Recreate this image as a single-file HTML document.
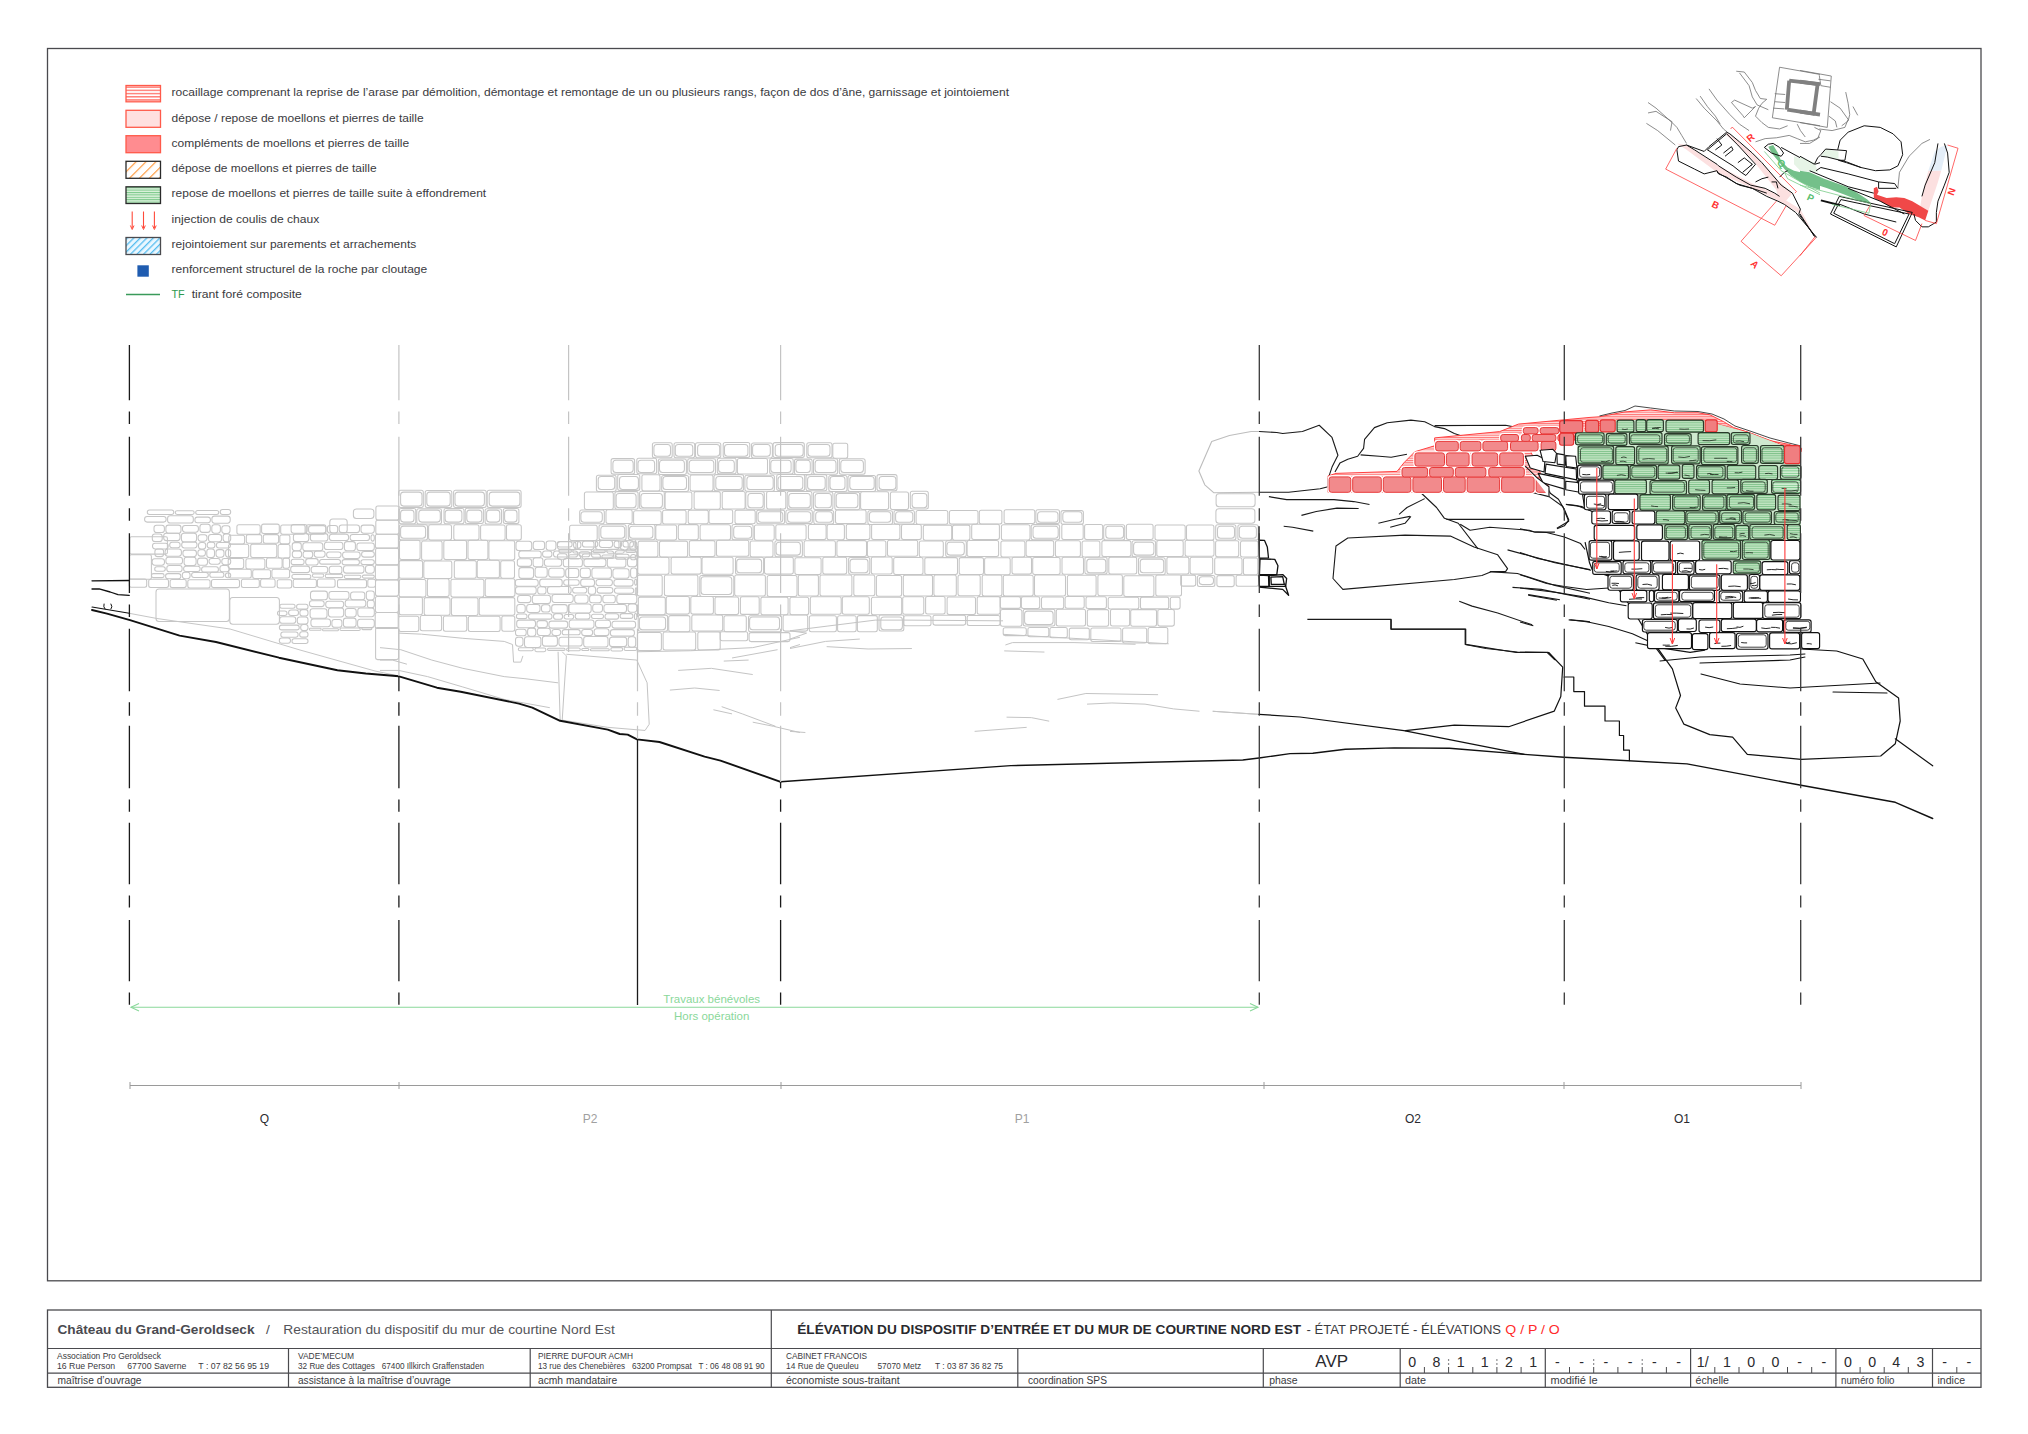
<!DOCTYPE html>
<html><head><meta charset="utf-8">
<style>
html,body{margin:0;padding:0;background:#fff;width:2028px;height:1434px;overflow:hidden}
svg{display:block;font-family:"Liberation Sans",sans-serif}
text{white-space:pre}
</style></head><body>
<svg width="2028" height="1434" viewBox="0 0 2028 1434">
<defs>
<pattern id="hs" width="6" height="3.2" patternUnits="userSpaceOnUse"><rect width="6" height="3.2" fill="#fff"/><rect width="6" height="1.5" fill="#ff8078"/></pattern>
<pattern id="gh" width="6" height="2.4" patternUnits="userSpaceOnUse"><rect width="6" height="2.4" fill="#dcf2dc"/><rect width="6" height="1" fill="#78c888"/></pattern>
<pattern id="oh" width="7" height="7" patternUnits="userSpaceOnUse" patternTransform="rotate(45)"><rect width="7" height="7" fill="#fff"/><rect width="1.2" height="7" fill="#ff9a3c"/></pattern>
<pattern id="bh" width="4.6" height="4.6" patternUnits="userSpaceOnUse" patternTransform="rotate(45)"><rect width="4.6" height="4.6" fill="#eaf7ff"/><rect width="1.3" height="4.6" fill="#58bdf0"/></pattern>
<pattern id="rh" width="6" height="2.3" patternUnits="userSpaceOnUse"><rect width="6" height="2.3" fill="#ffe4e4"/><rect width="6" height="1" fill="#ff7070"/></pattern>
<pattern id="gs" width="6" height="2.2" patternUnits="userSpaceOnUse"><rect width="6" height="2.2" fill="#c4e6c4"/><rect width="6" height="0.9" fill="#7cc088"/></pattern>
</defs>
<g fill="none" stroke="#c6c6c6" stroke-width="1.05">
<rect x="652.4" y="442.8" width="19.8" height="15.0" rx="2.0"/><rect x="653.9" y="444.4" width="16.6" height="11.8" rx="3.0"/><rect x="674.0" y="442.8" width="20.7" height="15.0" rx="2.0"/><rect x="675.3" y="444.4" width="17.5" height="11.8" rx="3.0"/><rect x="695.5" y="442.7" width="25.3" height="15.0" rx="2.0"/><rect x="697.6" y="444.4" width="22.1" height="11.8" rx="3.0"/><rect x="723.2" y="442.5" width="26.6" height="15.0" rx="2.0"/><rect x="724.5" y="444.4" width="23.4" height="11.8" rx="3.0"/><rect x="751.5" y="443.0" width="20.9" height="15.0" rx="2.0"/><rect x="752.6" y="444.4" width="17.7" height="11.8" rx="3.0"/><rect x="773.1" y="442.6" width="31.2" height="15.0" rx="2.0"/><rect x="775.2" y="444.4" width="28.0" height="11.8" rx="3.0"/><rect x="806.8" y="442.7" width="25.2" height="15.0" rx="2.0"/><rect x="808.0" y="444.4" width="22.0" height="11.8" rx="3.0"/><rect x="832.8" y="443.2" width="14.9" height="15.0" rx="2.0"/><rect x="611.1" y="458.6" width="23.5" height="15.5" rx="2.0"/><rect x="612.9" y="460.2" width="20.3" height="12.3" rx="3.0"/><rect x="636.8" y="458.3" width="19.8" height="15.5" rx="2.0"/><rect x="638.0" y="460.2" width="16.6" height="12.3" rx="3.0"/><rect x="658.3" y="459.0" width="28.1" height="15.5" rx="2.0"/><rect x="659.5" y="460.2" width="24.9" height="12.3" rx="3.0"/><rect x="687.7" y="458.8" width="27.8" height="15.5" rx="2.0"/><rect x="689.2" y="460.2" width="24.6" height="12.3" rx="3.0"/><rect x="717.3" y="458.3" width="18.9" height="15.5" rx="2.0"/><rect x="718.6" y="460.2" width="15.7" height="12.3" rx="3.0"/><rect x="737.4" y="458.5" width="30.1" height="15.5" rx="2.0"/><rect x="769.7" y="458.5" width="23.5" height="15.5" rx="2.0"/><rect x="770.8" y="460.2" width="20.3" height="12.3" rx="3.0"/><rect x="794.5" y="459.1" width="17.6" height="15.5" rx="2.0"/><rect x="795.9" y="460.2" width="14.4" height="12.3" rx="3.0"/><rect x="813.5" y="458.8" width="24.1" height="15.5" rx="2.0"/><rect x="815.1" y="460.2" width="20.9" height="12.3" rx="3.0"/><rect x="839.3" y="458.7" width="25.8" height="15.5" rx="2.0"/><rect x="840.8" y="460.2" width="22.6" height="12.3" rx="3.0"/><rect x="596.4" y="475.3" width="19.7" height="16.1" rx="2.0"/><rect x="598.2" y="476.5" width="16.5" height="12.9" rx="3.0"/><rect x="617.7" y="474.5" width="22.1" height="16.1" rx="2.0"/><rect x="619.5" y="476.5" width="18.9" height="12.9" rx="3.0"/><rect x="641.9" y="474.8" width="18.1" height="16.1" rx="2.0"/><rect x="661.7" y="475.4" width="26.8" height="16.1" rx="2.0"/><rect x="662.9" y="476.5" width="23.6" height="12.9" rx="3.0"/><rect x="690.1" y="475.0" width="22.9" height="16.1" rx="2.0"/><rect x="714.0" y="474.6" width="29.6" height="16.1" rx="2.0"/><rect x="715.8" y="476.5" width="26.4" height="12.9" rx="3.0"/><rect x="744.9" y="475.2" width="29.5" height="16.1" rx="2.0"/><rect x="746.9" y="476.5" width="26.3" height="12.9" rx="3.0"/><rect x="776.7" y="474.5" width="28.0" height="16.1" rx="2.0"/><rect x="778.0" y="476.5" width="24.8" height="12.9" rx="3.0"/><rect x="806.0" y="474.6" width="20.8" height="16.1" rx="2.0"/><rect x="807.6" y="476.5" width="17.6" height="12.9" rx="3.0"/><rect x="828.8" y="475.4" width="18.2" height="16.1" rx="2.0"/><rect x="830.0" y="476.5" width="15.0" height="12.9" rx="3.0"/><rect x="848.0" y="475.4" width="27.6" height="16.1" rx="2.0"/><rect x="849.8" y="476.5" width="24.4" height="12.9" rx="3.0"/><rect x="877.0" y="474.6" width="20.0" height="16.1" rx="2.0"/><rect x="879.1" y="476.5" width="16.8" height="12.9" rx="3.0"/><rect x="584.4" y="491.9" width="28.9" height="17.6" rx="2.0"/><rect x="614.9" y="491.6" width="23.2" height="17.6" rx="2.0"/><rect x="616.1" y="493.4" width="20.0" height="14.4" rx="3.0"/><rect x="639.6" y="491.3" width="24.7" height="17.6" rx="2.0"/><rect x="640.9" y="493.4" width="21.5" height="14.4" rx="3.0"/><rect x="665.1" y="491.9" width="26.8" height="17.6" rx="2.0"/><rect x="694.1" y="491.6" width="26.2" height="17.6" rx="2.0"/><rect x="722.2" y="491.4" width="22.9" height="17.6" rx="2.0"/><rect x="745.8" y="491.7" width="18.5" height="17.6" rx="2.0"/><rect x="747.9" y="493.4" width="15.3" height="14.4" rx="3.0"/><rect x="766.6" y="491.4" width="19.2" height="17.6" rx="2.0"/><rect x="787.2" y="491.5" width="24.7" height="17.6" rx="2.0"/><rect x="788.8" y="493.4" width="21.5" height="14.4" rx="3.0"/><rect x="813.4" y="492.0" width="19.5" height="17.6" rx="2.0"/><rect x="815.1" y="493.4" width="16.3" height="14.4" rx="3.0"/><rect x="834.8" y="492.2" width="24.9" height="17.6" rx="2.0"/><rect x="836.2" y="493.4" width="21.7" height="14.4" rx="3.0"/><rect x="860.6" y="491.8" width="28.0" height="17.6" rx="2.0"/><rect x="890.4" y="492.0" width="18.1" height="17.6" rx="2.0"/><rect x="910.3" y="491.3" width="18.0" height="17.6" rx="2.0"/><rect x="912.1" y="493.4" width="14.8" height="14.4" rx="3.0"/><rect x="579.7" y="510.0" width="24.6" height="13.7" rx="2.0"/><rect x="580.9" y="511.8" width="21.4" height="10.5" rx="3.0"/><rect x="606.0" y="509.8" width="26.2" height="13.7" rx="2.0"/><rect x="633.6" y="510.7" width="27.6" height="13.7" rx="2.0"/><rect x="662.6" y="510.3" width="23.5" height="13.7" rx="2.0"/><rect x="688.2" y="510.1" width="20.1" height="13.7" rx="2.0"/><rect x="709.0" y="509.8" width="23.7" height="13.7" rx="2.0"/><rect x="735.0" y="510.1" width="20.2" height="13.7" rx="2.0"/><rect x="756.7" y="510.1" width="27.9" height="13.7" rx="2.0"/><rect x="758.1" y="511.8" width="24.7" height="10.5" rx="3.0"/><rect x="785.9" y="509.9" width="26.4" height="13.7" rx="2.0"/><rect x="787.6" y="511.8" width="23.2" height="10.5" rx="3.0"/><rect x="813.8" y="510.4" width="19.9" height="13.7" rx="2.0"/><rect x="815.7" y="511.8" width="16.7" height="10.5" rx="3.0"/><rect x="835.5" y="509.9" width="30.6" height="13.7" rx="2.0"/><rect x="867.9" y="510.7" width="24.6" height="13.7" rx="2.0"/><rect x="869.4" y="511.8" width="21.4" height="10.5" rx="3.0"/><rect x="894.0" y="510.4" width="20.4" height="13.7" rx="2.0"/><rect x="895.6" y="511.8" width="17.2" height="10.5" rx="3.0"/><rect x="916.1" y="510.5" width="31.7" height="13.7" rx="2.0"/><rect x="949.4" y="510.4" width="28.6" height="13.7" rx="2.0"/><rect x="979.3" y="510.3" width="22.6" height="13.7" rx="2.0"/><rect x="1004.1" y="509.7" width="30.7" height="13.7" rx="2.0"/><rect x="1035.9" y="509.8" width="23.6" height="13.7" rx="2.0"/><rect x="1037.6" y="511.8" width="20.4" height="10.5" rx="3.0"/><rect x="1061.0" y="510.6" width="22.4" height="13.7" rx="2.0"/><rect x="1062.8" y="511.8" width="19.2" height="10.5" rx="3.0"/><rect x="569.6" y="525.2" width="27.6" height="15.2" rx="2.0"/><rect x="599.0" y="524.8" width="27.1" height="15.2" rx="2.0"/><rect x="600.8" y="526.3" width="23.9" height="12.0" rx="3.0"/><rect x="628.3" y="524.5" width="26.7" height="15.2" rx="2.0"/><rect x="629.4" y="526.3" width="23.5" height="12.0" rx="3.0"/><rect x="655.8" y="524.9" width="20.8" height="15.2" rx="2.0"/><rect x="678.3" y="524.6" width="20.0" height="15.2" rx="2.0"/><rect x="700.1" y="524.8" width="30.4" height="15.2" rx="2.0"/><rect x="732.0" y="524.5" width="21.1" height="15.2" rx="2.0"/><rect x="733.7" y="526.3" width="17.9" height="12.0" rx="3.0"/><rect x="754.4" y="525.0" width="19.8" height="15.2" rx="2.0"/><rect x="775.8" y="524.7" width="30.3" height="15.2" rx="2.0"/><rect x="808.4" y="524.4" width="17.7" height="15.2" rx="2.0"/><rect x="827.1" y="524.5" width="17.3" height="15.2" rx="2.0"/><rect x="846.3" y="524.3" width="23.6" height="15.2" rx="2.0"/><rect x="871.6" y="524.2" width="28.3" height="15.2" rx="2.0"/><rect x="901.5" y="524.4" width="19.8" height="15.2" rx="2.0"/><rect x="923.3" y="525.1" width="28.4" height="15.2" rx="2.0"/><rect x="952.5" y="525.1" width="17.4" height="15.2" rx="2.0"/><rect x="971.7" y="524.3" width="27.7" height="15.2" rx="2.0"/><rect x="1001.4" y="524.7" width="28.6" height="15.2" rx="2.0"/><rect x="1031.2" y="524.6" width="28.4" height="15.2" rx="2.0"/><rect x="1033.0" y="526.3" width="25.2" height="12.0" rx="3.0"/><rect x="1061.8" y="524.3" width="21.4" height="15.2" rx="2.0"/><rect x="1084.6" y="524.4" width="18.1" height="15.2" rx="2.0"/><rect x="1103.7" y="524.7" width="21.0" height="15.2" rx="2.0"/><rect x="1105.8" y="526.3" width="17.8" height="12.0" rx="3.0"/><rect x="1126.4" y="524.3" width="26.7" height="15.2" rx="2.0"/><rect x="1155.0" y="524.9" width="30.2" height="15.2" rx="2.0"/><rect x="1186.5" y="525.0" width="27.4" height="15.2" rx="2.0"/><rect x="1215.7" y="524.7" width="20.2" height="15.2" rx="2.0"/><rect x="1217.5" y="526.3" width="17.0" height="12.0" rx="3.0"/><rect x="1237.9" y="524.7" width="20.3" height="15.2" rx="2.0"/><rect x="1239.3" y="526.3" width="17.1" height="12.0" rx="3.0"/><rect x="638.1" y="541.1" width="19.8" height="16.0" rx="2.0"/><rect x="659.5" y="541.1" width="28.1" height="16.0" rx="2.0"/><rect x="689.3" y="540.6" width="25.7" height="16.0" rx="2.0"/><rect x="716.5" y="540.2" width="32.3" height="16.0" rx="2.0"/><rect x="750.2" y="541.0" width="22.8" height="16.0" rx="2.0"/><rect x="774.9" y="540.7" width="27.5" height="16.0" rx="2.0"/><rect x="776.1" y="542.3" width="24.3" height="12.8" rx="3.0"/><rect x="804.1" y="540.8" width="31.3" height="16.0" rx="2.0"/><rect x="836.9" y="540.6" width="29.6" height="16.0" rx="2.0"/><rect x="867.4" y="540.7" width="18.5" height="16.0" rx="2.0"/><rect x="887.5" y="540.2" width="30.2" height="16.0" rx="2.0"/><rect x="919.3" y="540.9" width="24.0" height="16.0" rx="2.0"/><rect x="945.7" y="540.7" width="20.6" height="16.0" rx="2.0"/><rect x="946.9" y="542.3" width="17.4" height="12.8" rx="3.0"/><rect x="967.1" y="540.4" width="31.5" height="16.0" rx="2.0"/><rect x="1000.9" y="541.0" width="24.0" height="16.0" rx="2.0"/><rect x="1026.1" y="540.6" width="27.6" height="16.0" rx="2.0"/><rect x="1055.4" y="540.7" width="25.0" height="16.0" rx="2.0"/><rect x="1082.1" y="541.0" width="17.8" height="16.0" rx="2.0"/><rect x="1101.9" y="540.6" width="29.0" height="16.0" rx="2.0"/><rect x="1132.1" y="540.8" width="23.5" height="16.0" rx="2.0"/><rect x="1133.6" y="542.3" width="20.3" height="12.8" rx="3.0"/><rect x="1156.8" y="540.4" width="26.4" height="16.0" rx="2.0"/><rect x="1185.1" y="540.3" width="28.9" height="16.0" rx="2.0"/><rect x="1215.6" y="540.7" width="23.1" height="16.0" rx="2.0"/><rect x="1240.5" y="540.9" width="17.6" height="16.0" rx="2.0"/><rect x="637.7" y="557.3" width="31.3" height="16.9" rx="2.0"/><rect x="671.1" y="557.2" width="30.1" height="16.9" rx="2.0"/><rect x="702.0" y="557.3" width="31.1" height="16.9" rx="2.0"/><rect x="735.5" y="557.3" width="28.1" height="16.9" rx="2.0"/><rect x="736.7" y="559.1" width="24.9" height="13.7" rx="3.0"/><rect x="764.5" y="557.2" width="28.8" height="16.9" rx="2.0"/><rect x="794.9" y="557.7" width="26.2" height="16.9" rx="2.0"/><rect x="822.8" y="557.2" width="23.9" height="16.9" rx="2.0"/><rect x="848.6" y="557.4" width="21.2" height="16.9" rx="2.0"/><rect x="850.0" y="559.1" width="18.0" height="13.7" rx="3.0"/><rect x="871.3" y="557.0" width="20.9" height="16.9" rx="2.0"/><rect x="893.7" y="557.5" width="29.3" height="16.9" rx="2.0"/><rect x="924.8" y="557.6" width="32.7" height="16.9" rx="2.0"/><rect x="959.2" y="557.6" width="24.3" height="16.9" rx="2.0"/><rect x="984.6" y="557.8" width="25.6" height="16.9" rx="2.0"/><rect x="1012.0" y="557.2" width="19.5" height="16.9" rx="2.0"/><rect x="1032.7" y="557.5" width="27.4" height="16.9" rx="2.0"/><rect x="1062.0" y="557.3" width="21.5" height="16.9" rx="2.0"/><rect x="1084.9" y="557.2" width="22.2" height="16.9" rx="2.0"/><rect x="1086.8" y="559.1" width="19.0" height="13.7" rx="3.0"/><rect x="1108.8" y="557.1" width="27.9" height="16.9" rx="2.0"/><rect x="1138.5" y="557.8" width="26.7" height="16.9" rx="2.0"/><rect x="1140.2" y="559.1" width="23.5" height="13.7" rx="3.0"/><rect x="1166.9" y="557.1" width="22.0" height="16.9" rx="2.0"/><rect x="1190.1" y="557.2" width="22.6" height="16.9" rx="2.0"/><rect x="1214.7" y="557.7" width="27.3" height="16.9" rx="2.0"/><rect x="1243.4" y="557.9" width="14.4" height="16.9" rx="2.0"/><rect x="637.3" y="575.2" width="24.9" height="20.9" rx="2.0"/><rect x="664.4" y="574.9" width="33.5" height="20.9" rx="2.0"/><rect x="699.8" y="575.5" width="34.0" height="20.9" rx="2.0"/><rect x="701.0" y="576.8" width="30.8" height="17.7" rx="3.0"/><rect x="734.7" y="575.0" width="30.7" height="20.9" rx="2.0"/><rect x="767.2" y="575.5" width="29.8" height="20.9" rx="2.0"/><rect x="798.3" y="575.0" width="20.1" height="20.9" rx="2.0"/><rect x="820.0" y="575.0" width="31.9" height="20.9" rx="2.0"/><rect x="853.8" y="574.9" width="21.0" height="20.9" rx="2.0"/><rect x="876.4" y="575.4" width="25.2" height="20.9" rx="2.0"/><rect x="903.3" y="575.1" width="29.2" height="20.9" rx="2.0"/><rect x="933.9" y="575.0" width="22.4" height="20.9" rx="2.0"/><rect x="958.0" y="574.9" width="22.2" height="20.9" rx="2.0"/><rect x="982.2" y="575.0" width="19.7" height="20.9" rx="2.0"/><rect x="1003.3" y="575.2" width="29.9" height="20.9" rx="2.0"/><rect x="1034.5" y="575.0" width="31.0" height="20.9" rx="2.0"/><rect x="1067.4" y="575.2" width="28.7" height="20.9" rx="2.0"/><rect x="1097.9" y="574.8" width="24.5" height="20.9" rx="2.0"/><rect x="1123.8" y="575.7" width="30.1" height="20.9" rx="2.0"/><rect x="1155.8" y="575.0" width="25.7" height="20.9" rx="2.0"/><rect x="1180.7" y="575.1" width="15.0" height="11.0" rx="2.0"/><rect x="1197.4" y="575.5" width="17.5" height="11.0" rx="2.0"/><rect x="1199.2" y="576.8" width="14.3" height="7.8" rx="3.0"/><rect x="1216.9" y="575.6" width="17.3" height="11.0" rx="2.0"/><rect x="1236.1" y="575.2" width="22.4" height="11.0" rx="2.0"/><rect x="638.3" y="597.1" width="27.0" height="17.6" rx="2.0"/><rect x="666.2" y="596.5" width="23.2" height="17.6" rx="2.0"/><rect x="690.8" y="596.5" width="22.6" height="17.6" rx="2.0"/><rect x="715.0" y="597.0" width="23.6" height="17.6" rx="2.0"/><rect x="740.4" y="596.8" width="18.8" height="17.6" rx="2.0"/><rect x="760.9" y="597.1" width="27.2" height="17.6" rx="2.0"/><rect x="789.9" y="597.2" width="18.8" height="17.6" rx="2.0"/><rect x="810.3" y="596.7" width="30.9" height="17.6" rx="2.0"/><rect x="842.3" y="596.7" width="27.0" height="17.6" rx="2.0"/><rect x="871.4" y="597.2" width="30.3" height="17.6" rx="2.0"/><rect x="902.7" y="596.7" width="21.1" height="17.6" rx="2.0"/><rect x="925.6" y="596.4" width="19.5" height="17.6" rx="2.0"/><rect x="947.1" y="597.0" width="28.4" height="17.6" rx="2.0"/><rect x="977.2" y="596.6" width="22.9" height="17.6" rx="2.0"/><rect x="638.2" y="615.1" width="29.4" height="16.1" rx="2.0"/><rect x="639.4" y="616.9" width="26.2" height="12.9" rx="3.0"/><rect x="668.7" y="615.6" width="21.2" height="16.1" rx="2.0"/><rect x="691.8" y="615.0" width="30.9" height="16.1" rx="2.0"/><rect x="724.0" y="615.7" width="22.3" height="16.1" rx="2.0"/><rect x="748.5" y="615.7" width="33.1" height="16.1" rx="2.0"/><rect x="749.6" y="616.9" width="29.9" height="12.9" rx="3.0"/><rect x="783.1" y="615.0" width="24.6" height="16.1" rx="2.0"/><rect x="809.3" y="615.7" width="27.1" height="16.1" rx="2.0"/><rect x="837.6" y="615.7" width="18.6" height="16.1" rx="2.0"/><rect x="857.4" y="615.6" width="19.9" height="16.1" rx="2.0"/><rect x="879.0" y="614.9" width="24.8" height="16.1" rx="2.0"/><rect x="880.8" y="616.9" width="21.6" height="12.9" rx="3.0"/><rect x="903.6" y="615.8" width="27.4" height="9.9" rx="2.0"/><rect x="933.0" y="615.2" width="32.6" height="9.9" rx="2.0"/><rect x="967.2" y="615.5" width="32.8" height="9.9" rx="2.0"/><rect x="1000.3" y="596.6" width="20.2" height="11.8" rx="2.0"/><rect x="1021.4" y="596.8" width="18.3" height="11.8" rx="2.0"/><rect x="1041.5" y="596.9" width="22.2" height="11.8" rx="2.0"/><rect x="1065.1" y="596.5" width="19.1" height="11.8" rx="2.0"/><rect x="1086.0" y="596.7" width="20.4" height="11.8" rx="2.0"/><rect x="1108.2" y="597.2" width="30.6" height="11.8" rx="2.0"/><rect x="1140.5" y="597.1" width="28.2" height="11.8" rx="2.0"/><rect x="1170.3" y="597.3" width="9.8" height="11.8" rx="2.0"/><rect x="1000.5" y="609.5" width="21.4" height="16.7" rx="2.0"/><rect x="1023.2" y="609.3" width="31.7" height="16.7" rx="2.0"/><rect x="1024.6" y="611.1" width="28.5" height="13.5" rx="3.0"/><rect x="1056.3" y="609.2" width="29.2" height="16.7" rx="2.0"/><rect x="1087.3" y="609.6" width="21.3" height="16.7" rx="2.0"/><rect x="1110.5" y="609.2" width="19.1" height="16.7" rx="2.0"/><rect x="1130.7" y="609.6" width="25.8" height="16.7" rx="2.0"/><rect x="1157.8" y="609.4" width="16.5" height="16.7" rx="2.0"/><rect x="1003.2" y="627.8" width="23.1" height="7.8" rx="2.0"/><rect x="1027.9" y="627.5" width="20.9" height="9.2" rx="2.0"/><rect x="1049.9" y="627.5" width="17.4" height="10.3" rx="2.0"/><rect x="1069.3" y="628.1" width="20.0" height="11.6" rx="2.0"/><rect x="1090.8" y="628.0" width="30.2" height="13.5" rx="2.0"/><rect x="1122.6" y="628.0" width="24.1" height="15.0" rx="2.0"/><rect x="1148.1" y="627.5" width="19.7" height="16.2" rx="2.0"/><rect x="637.4" y="632.4" width="24.0" height="18.0" rx="2.0"/><rect x="663.1" y="632.0" width="32.6" height="18.0" rx="2.0"/><rect x="697.8" y="631.9" width="22.4" height="18.0" rx="2.0"/><rect x="720.2" y="631.8" width="27.5" height="9.0" rx="2.0"/><rect x="749.1" y="632.6" width="40.9" height="9.0" rx="2.0"/><rect x="1216.1" y="493.7" width="39.0" height="13.0" rx="3"/><rect x="1215.9" y="508.8" width="39.0" height="14.5" rx="3"/><rect x="398.7" y="490.2" width="24.6" height="17.2" rx="2.0"/><rect x="400.6" y="492.1" width="21.4" height="14.0" rx="3.0"/><rect x="425.2" y="490.4" width="26.6" height="17.2" rx="2.0"/><rect x="426.8" y="492.1" width="23.4" height="14.0" rx="3.0"/><rect x="453.6" y="490.2" width="32.6" height="17.2" rx="2.0"/><rect x="455.0" y="492.1" width="29.4" height="14.0" rx="3.0"/><rect x="487.2" y="490.3" width="33.9" height="17.2" rx="2.0"/><rect x="489.2" y="492.1" width="30.7" height="14.0" rx="3.0"/><rect x="399.2" y="508.5" width="16.6" height="15.2" rx="2.0"/><rect x="400.6" y="510.1" width="13.4" height="12.0" rx="3.0"/><rect x="416.8" y="508.7" width="24.7" height="15.2" rx="2.0"/><rect x="418.8" y="510.1" width="21.5" height="12.0" rx="3.0"/><rect x="444.0" y="508.5" width="20.0" height="15.2" rx="2.0"/><rect x="445.1" y="510.1" width="16.8" height="12.0" rx="3.0"/><rect x="465.2" y="508.3" width="18.2" height="15.2" rx="2.0"/><rect x="466.8" y="510.1" width="15.0" height="12.0" rx="3.0"/><rect x="485.1" y="508.8" width="16.4" height="15.2" rx="2.0"/><rect x="486.6" y="510.1" width="13.2" height="12.0" rx="3.0"/><rect x="503.3" y="508.4" width="15.6" height="15.2" rx="2.0"/><rect x="504.6" y="510.1" width="12.4" height="12.0" rx="3.0"/><rect x="399.3" y="524.7" width="28.2" height="15.3" rx="2.0"/><rect x="400.6" y="526.1" width="25.0" height="12.1" rx="3.0"/><rect x="428.6" y="524.8" width="22.9" height="15.3" rx="2.0"/><rect x="453.8" y="524.8" width="25.2" height="15.3" rx="2.0"/><rect x="480.6" y="524.9" width="24.5" height="15.3" rx="2.0"/><rect x="506.5" y="524.8" width="14.8" height="15.3" rx="2.0"/><rect x="399.5" y="540.2" width="20.6" height="19.2" rx="2.0"/><rect x="421.6" y="541.0" width="20.5" height="19.2" rx="2.0"/><rect x="443.8" y="540.4" width="22.8" height="19.2" rx="2.0"/><rect x="468.0" y="540.2" width="19.9" height="19.2" rx="2.0"/><rect x="488.9" y="540.7" width="25.8" height="19.2" rx="2.0"/><rect x="399.0" y="560.6" width="23.6" height="17.6" rx="2.0"/><rect x="423.8" y="560.9" width="28.0" height="17.6" rx="2.0"/><rect x="454.3" y="560.6" width="22.0" height="17.6" rx="2.0"/><rect x="477.2" y="560.3" width="22.2" height="17.6" rx="2.0"/><rect x="500.7" y="560.7" width="13.8" height="17.6" rx="2.0"/><rect x="399.1" y="579.4" width="26.8" height="17.7" rx="2.0"/><rect x="427.4" y="578.8" width="21.7" height="17.7" rx="2.0"/><rect x="450.9" y="579.3" width="33.0" height="17.7" rx="2.0"/><rect x="485.2" y="578.8" width="29.7" height="17.7" rx="2.0"/><rect x="399.2" y="597.0" width="23.2" height="17.7" rx="2.0"/><rect x="424.2" y="597.6" width="25.8" height="17.7" rx="2.0"/><rect x="451.4" y="597.7" width="26.6" height="17.7" rx="2.0"/><rect x="479.2" y="597.6" width="35.6" height="17.7" rx="2.0"/><rect x="398.8" y="616.2" width="20.0" height="15.2" rx="2.0"/><rect x="420.3" y="615.5" width="21.3" height="15.2" rx="2.0"/><rect x="443.4" y="616.0" width="23.4" height="15.2" rx="2.0"/><rect x="468.3" y="616.2" width="31.8" height="15.2" rx="2.0"/><rect x="501.8" y="616.0" width="13.0" height="15.2" rx="2.0"/><rect x="516.0" y="541.2" width="15.7" height="9.3" rx="2.6"/><rect x="533.2" y="541.3" width="11.4" height="8.2" rx="2.6"/><rect x="546.1" y="541.0" width="9.8" height="9.2" rx="2.6"/><rect x="557.5" y="541.7" width="18.5" height="7.7" rx="2.6"/><rect x="577.5" y="541.0" width="16.5" height="8.6" rx="2.6"/><rect x="595.5" y="540.4" width="23.5" height="9.1" rx="2.6"/><rect x="620.5" y="541.2" width="7.7" height="8.9" rx="2.6"/><rect x="629.8" y="541.7" width="7.0" height="8.5" rx="2.6"/><rect x="518.8" y="550.9" width="22.4" height="6.9" rx="2.6"/><rect x="542.6" y="551.0" width="9.3" height="6.1" rx="2.6"/><rect x="553.5" y="550.9" width="24.2" height="6.1" rx="2.6"/><rect x="579.2" y="551.7" width="10.7" height="5.0" rx="2.3"/><rect x="591.4" y="551.0" width="22.3" height="6.3" rx="2.6"/><rect x="615.2" y="550.8" width="21.6" height="6.4" rx="2.6"/><rect x="517.3" y="558.8" width="14.3" height="7.6" rx="2.6"/><rect x="533.1" y="557.7" width="9.8" height="9.1" rx="2.6"/><rect x="544.4" y="559.0" width="17.3" height="7.2" rx="2.6"/><rect x="563.3" y="558.5" width="19.1" height="8.3" rx="2.6"/><rect x="583.9" y="558.6" width="22.0" height="8.0" rx="2.6"/><rect x="607.3" y="558.0" width="18.6" height="9.3" rx="2.6"/><rect x="627.5" y="557.8" width="9.3" height="8.9" rx="2.6"/><rect x="518.9" y="567.6" width="14.7" height="10.8" rx="2.6"/><rect x="535.1" y="567.2" width="12.1" height="10.1" rx="2.6"/><rect x="548.7" y="568.3" width="15.5" height="8.8" rx="2.6"/><rect x="565.7" y="568.4" width="13.0" height="9.1" rx="2.6"/><rect x="580.2" y="568.3" width="10.2" height="9.3" rx="2.6"/><rect x="591.9" y="568.0" width="19.5" height="10.3" rx="2.6"/><rect x="612.9" y="568.8" width="16.2" height="9.5" rx="2.6"/><rect x="630.6" y="568.0" width="6.2" height="9.9" rx="2.6"/><rect x="515.3" y="579.5" width="22.9" height="6.8" rx="2.6"/><rect x="539.7" y="579.1" width="22.5" height="7.6" rx="2.6"/><rect x="563.7" y="579.8" width="15.5" height="5.4" rx="2.5"/><rect x="580.7" y="579.1" width="13.8" height="7.3" rx="2.6"/><rect x="596.0" y="579.5" width="16.4" height="6.2" rx="2.6"/><rect x="613.9" y="579.5" width="19.2" height="6.6" rx="2.6"/><rect x="634.6" y="579.3" width="2.2" height="5.8" rx="2.6"/><rect x="515.5" y="586.7" width="20.7" height="7.4" rx="2.6"/><rect x="537.7" y="586.7" width="8.3" height="7.3" rx="2.6"/><rect x="547.5" y="586.5" width="23.6" height="7.4" rx="2.6"/><rect x="572.6" y="587.4" width="14.2" height="5.6" rx="2.6"/><rect x="588.3" y="586.5" width="7.3" height="7.8" rx="2.6"/><rect x="597.1" y="587.4" width="15.8" height="5.7" rx="2.6"/><rect x="614.4" y="587.9" width="19.3" height="5.4" rx="2.5"/><rect x="635.3" y="587.8" width="1.5" height="6.7" rx="2.6"/><rect x="517.6" y="595.5" width="13.2" height="7.1" rx="2.6"/><rect x="532.3" y="595.2" width="18.2" height="8.4" rx="2.6"/><rect x="552.0" y="594.4" width="21.2" height="8.0" rx="2.6"/><rect x="574.7" y="594.9" width="13.4" height="8.3" rx="2.6"/><rect x="589.6" y="595.1" width="11.7" height="7.7" rx="2.6"/><rect x="602.8" y="595.3" width="12.5" height="7.5" rx="2.6"/><rect x="616.8" y="594.4" width="20.0" height="9.1" rx="2.6"/><rect x="516.8" y="604.4" width="8.4" height="8.4" rx="2.6"/><rect x="526.7" y="604.5" width="13.3" height="7.9" rx="2.6"/><rect x="541.5" y="604.7" width="8.6" height="7.3" rx="2.6"/><rect x="551.7" y="604.6" width="15.6" height="8.4" rx="2.6"/><rect x="568.8" y="603.9" width="22.4" height="9.0" rx="2.6"/><rect x="592.7" y="604.2" width="9.8" height="8.0" rx="2.6"/><rect x="603.9" y="604.5" width="22.6" height="8.1" rx="2.6"/><rect x="628.0" y="603.9" width="8.8" height="8.3" rx="2.6"/><rect x="516.4" y="614.0" width="10.6" height="4.6" rx="2.1"/><rect x="528.5" y="613.8" width="23.5" height="5.3" rx="2.4"/><rect x="553.5" y="613.6" width="9.1" height="5.7" rx="2.6"/><rect x="564.1" y="614.4" width="9.6" height="4.5" rx="2.1"/><rect x="575.2" y="613.3" width="14.8" height="5.7" rx="2.6"/><rect x="591.5" y="614.2" width="12.0" height="4.3" rx="2.0"/><rect x="605.0" y="613.8" width="13.6" height="5.3" rx="2.4"/><rect x="620.1" y="613.6" width="12.8" height="4.8" rx="2.2"/><rect x="634.4" y="613.5" width="2.4" height="6.0" rx="2.6"/><rect x="516.7" y="620.1" width="18.8" height="7.6" rx="2.6"/><rect x="536.9" y="620.6" width="10.5" height="7.0" rx="2.6"/><rect x="548.9" y="621.1" width="18.8" height="7.0" rx="2.6"/><rect x="569.2" y="620.0" width="24.8" height="8.3" rx="2.6"/><rect x="595.5" y="620.2" width="15.0" height="7.3" rx="2.6"/><rect x="612.0" y="621.2" width="23.6" height="6.9" rx="2.6"/><rect x="515.5" y="629.2" width="10.7" height="6.6" rx="2.6"/><rect x="527.6" y="628.1" width="8.2" height="8.1" rx="2.6"/><rect x="537.3" y="628.2" width="13.1" height="7.2" rx="2.6"/><rect x="551.9" y="629.4" width="8.8" height="6.0" rx="2.6"/><rect x="562.2" y="629.6" width="18.0" height="5.2" rx="2.4"/><rect x="581.7" y="629.4" width="10.9" height="6.2" rx="2.6"/><rect x="594.1" y="628.7" width="14.9" height="6.9" rx="2.6"/><rect x="610.4" y="629.6" width="24.0" height="6.5" rx="2.6"/><rect x="515.5" y="637.2" width="7.5" height="9.0" rx="2.6"/><rect x="524.5" y="636.7" width="16.4" height="10.7" rx="2.6"/><rect x="542.4" y="636.1" width="15.0" height="10.0" rx="2.6"/><rect x="558.9" y="637.2" width="23.3" height="8.8" rx="2.6"/><rect x="583.7" y="636.5" width="24.3" height="10.5" rx="2.6"/><rect x="609.5" y="637.3" width="17.2" height="9.3" rx="2.6"/><rect x="628.2" y="636.8" width="7.5" height="10.4" rx="2.6"/><rect x="518.3" y="647.7" width="15.0" height="3.1" rx="1.6"/><rect x="534.8" y="647.9" width="11.1" height="3.8" rx="1.9"/><rect x="547.5" y="648.3" width="17.6" height="2.1" rx="1.2"/><rect x="566.6" y="648.0" width="13.7" height="2.8" rx="1.5"/><rect x="581.7" y="648.5" width="7.2" height="2.0" rx="1.1"/><rect x="590.4" y="648.7" width="18.9" height="2.0" rx="1.1"/><rect x="610.8" y="647.6" width="11.9" height="3.4" rx="1.7"/><rect x="624.1" y="647.3" width="12.7" height="3.2" rx="1.6"/><rect x="557.1" y="541.4" width="15.0" height="5.5" rx="2.5"/><rect x="573.6" y="541.4" width="7.3" height="6.9" rx="2.6"/><rect x="582.4" y="540.9" width="15.3" height="6.1" rx="2.6"/><rect x="599.3" y="540.4" width="13.3" height="7.0" rx="2.6"/><rect x="614.1" y="541.0" width="7.4" height="6.6" rx="2.6"/><rect x="623.0" y="540.6" width="10.4" height="6.4" rx="2.6"/><rect x="634.9" y="540.4" width="1.1" height="8.1" rx="2.6"/><rect x="558.9" y="549.1" width="12.5" height="3.6" rx="1.8"/><rect x="572.8" y="549.5" width="18.8" height="3.5" rx="1.7"/><rect x="593.1" y="549.7" width="12.2" height="2.9" rx="1.5"/><rect x="606.8" y="549.2" width="17.5" height="4.0" rx="1.9"/><rect x="625.8" y="549.1" width="10.2" height="3.3" rx="1.7"/><rect x="557.4" y="553.7" width="9.7" height="5.6" rx="2.5"/><rect x="568.6" y="554.8" width="12.1" height="4.1" rx="1.9"/><rect x="582.1" y="554.0" width="18.3" height="5.0" rx="2.3"/><rect x="601.9" y="554.9" width="12.1" height="3.6" rx="1.8"/><rect x="615.5" y="554.3" width="13.6" height="4.9" rx="2.3"/><rect x="630.6" y="554.5" width="5.4" height="5.3" rx="2.4"/><rect x="147.3" y="509.9" width="26.5" height="4.6" rx="2.2"/><rect x="175.3" y="510.7" width="18.9" height="3.7" rx="1.8"/><rect x="195.7" y="510.4" width="23.0" height="4.1" rx="2.0"/><rect x="220.2" y="509.4" width="10.5" height="5.1" rx="2.4"/><rect x="144.6" y="516.5" width="21.5" height="5.6" rx="2.5"/><rect x="167.6" y="515.7" width="25.7" height="7.3" rx="2.6"/><rect x="194.9" y="517.1" width="15.5" height="5.6" rx="2.5"/><rect x="211.9" y="516.1" width="18.3" height="7.1" rx="2.6"/><rect x="129.9" y="536.8" width="37.5" height="17.3" rx="1.5"/><rect x="129.6" y="554.8" width="21.8" height="24.5" rx="1.5"/><rect x="154.0" y="525.2" width="10.4" height="7.3" rx="2.6"/><rect x="165.9" y="525.1" width="15.1" height="8.2" rx="2.6"/><rect x="182.5" y="525.4" width="15.9" height="6.8" rx="2.6"/><rect x="199.9" y="524.3" width="10.4" height="8.1" rx="2.6"/><rect x="211.8" y="524.7" width="8.6" height="8.5" rx="2.6"/><rect x="221.8" y="525.7" width="8.2" height="7.7" rx="2.6"/><rect x="152.3" y="533.9" width="9.9" height="7.6" rx="2.6"/><rect x="163.7" y="533.2" width="16.3" height="7.4" rx="2.6"/><rect x="181.4" y="533.2" width="15.2" height="8.7" rx="2.6"/><rect x="198.1" y="534.7" width="8.9" height="6.5" rx="2.6"/><rect x="208.5" y="534.5" width="13.1" height="7.3" rx="2.6"/><rect x="223.1" y="533.9" width="7.6" height="7.8" rx="2.6"/><rect x="152.5" y="543.2" width="15.7" height="5.7" rx="2.6"/><rect x="169.7" y="542.3" width="10.4" height="5.4" rx="2.5"/><rect x="181.7" y="541.9" width="15.3" height="6.0" rx="2.6"/><rect x="198.5" y="542.5" width="7.2" height="6.6" rx="2.6"/><rect x="207.2" y="542.2" width="7.7" height="5.8" rx="2.6"/><rect x="216.4" y="542.4" width="14.0" height="5.5" rx="2.5"/><rect x="154.9" y="549.0" width="8.7" height="7.6" rx="2.6"/><rect x="165.1" y="549.0" width="16.3" height="7.2" rx="2.6"/><rect x="182.9" y="550.1" width="13.5" height="6.6" rx="2.6"/><rect x="197.9" y="549.7" width="7.5" height="6.4" rx="2.6"/><rect x="206.8" y="549.0" width="7.7" height="8.5" rx="2.6"/><rect x="216.0" y="549.6" width="8.0" height="7.6" rx="2.6"/><rect x="225.6" y="549.5" width="5.1" height="7.7" rx="2.6"/><rect x="152.1" y="558.8" width="12.4" height="6.4" rx="2.6"/><rect x="165.9" y="557.3" width="16.6" height="6.7" rx="2.6"/><rect x="184.1" y="557.3" width="12.0" height="8.2" rx="2.6"/><rect x="197.6" y="558.1" width="9.9" height="7.2" rx="2.6"/><rect x="209.0" y="558.5" width="11.3" height="5.7" rx="2.6"/><rect x="221.8" y="558.4" width="8.9" height="6.3" rx="2.6"/><rect x="154.7" y="566.7" width="10.6" height="4.6" rx="2.2"/><rect x="166.8" y="565.4" width="15.3" height="6.4" rx="2.6"/><rect x="183.6" y="566.2" width="16.5" height="5.2" rx="2.4"/><rect x="201.6" y="566.8" width="16.8" height="5.3" rx="2.4"/><rect x="219.9" y="565.4" width="9.2" height="6.4" rx="2.6"/><rect x="151.5" y="573.6" width="12.6" height="4.0" rx="1.9"/><rect x="165.6" y="573.6" width="15.2" height="5.1" rx="2.3"/><rect x="182.3" y="572.3" width="7.8" height="6.4" rx="2.6"/><rect x="191.6" y="572.4" width="16.7" height="5.1" rx="2.4"/><rect x="209.8" y="572.2" width="14.1" height="5.1" rx="2.4"/><rect x="225.4" y="573.0" width="5.3" height="4.8" rx="2.2"/><rect x="236.9" y="524.8" width="23.3" height="9.4" rx="2.0"/><rect x="261.6" y="524.1" width="17.7" height="9.4" rx="2.0"/><rect x="280.7" y="524.9" width="24.4" height="9.4" rx="2.0"/><rect x="306.2" y="524.7" width="19.7" height="9.4" rx="2.0"/><rect x="228.8" y="535.2" width="15.8" height="8.7" rx="2.0"/><rect x="246.3" y="534.6" width="15.4" height="8.7" rx="2.0"/><rect x="263.3" y="534.6" width="15.3" height="8.7" rx="2.0"/><rect x="279.8" y="535.0" width="10.1" height="8.7" rx="2.0"/><rect x="228.5" y="544.2" width="20.2" height="13.4" rx="2.0"/><rect x="250.7" y="544.1" width="26.1" height="13.4" rx="2.0"/><rect x="278.1" y="544.5" width="11.9" height="13.4" rx="2.0"/><rect x="228.2" y="558.4" width="15.5" height="10.2" rx="2.0"/><rect x="245.9" y="558.8" width="19.0" height="10.2" rx="2.0"/><rect x="266.5" y="558.0" width="15.6" height="10.2" rx="2.0"/><rect x="283.0" y="558.1" width="6.5" height="10.2" rx="2.0"/><rect x="228.7" y="569.3" width="22.6" height="8.7" rx="2.0"/><rect x="252.7" y="569.8" width="17.9" height="8.7" rx="2.0"/><rect x="271.9" y="569.2" width="17.7" height="8.7" rx="2.0"/><rect x="291.1" y="524.5" width="16.1" height="8.7" rx="2.6"/><rect x="308.6" y="525.6" width="17.3" height="7.4" rx="2.6"/><rect x="327.4" y="525.5" width="10.3" height="7.5" rx="2.6"/><rect x="339.2" y="525.0" width="20.3" height="7.6" rx="2.6"/><rect x="361.0" y="525.1" width="13.3" height="8.1" rx="2.6"/><rect x="293.4" y="533.7" width="15.4" height="7.9" rx="2.6"/><rect x="310.4" y="533.6" width="17.5" height="7.4" rx="2.6"/><rect x="329.4" y="534.3" width="19.2" height="6.2" rx="2.6"/><rect x="350.1" y="534.5" width="19.4" height="6.0" rx="2.6"/><rect x="371.0" y="534.7" width="3.3" height="6.4" rx="2.6"/><rect x="292.2" y="542.6" width="9.1" height="8.1" rx="2.6"/><rect x="302.8" y="542.8" width="20.0" height="8.1" rx="2.6"/><rect x="324.3" y="542.3" width="18.6" height="7.2" rx="2.6"/><rect x="344.4" y="541.6" width="11.0" height="9.2" rx="2.6"/><rect x="356.9" y="543.0" width="17.4" height="7.6" rx="2.6"/><rect x="292.3" y="551.0" width="9.3" height="6.7" rx="2.6"/><rect x="303.1" y="551.2" width="9.6" height="6.7" rx="2.6"/><rect x="314.2" y="551.0" width="10.9" height="6.2" rx="2.6"/><rect x="326.6" y="552.0" width="14.5" height="5.7" rx="2.6"/><rect x="342.6" y="551.9" width="17.5" height="6.5" rx="2.6"/><rect x="361.6" y="551.5" width="12.7" height="5.6" rx="2.6"/><rect x="291.1" y="559.3" width="13.0" height="5.3" rx="2.4"/><rect x="305.7" y="558.6" width="12.5" height="6.4" rx="2.6"/><rect x="319.6" y="559.5" width="20.9" height="4.6" rx="2.2"/><rect x="342.1" y="559.6" width="17.3" height="5.1" rx="2.3"/><rect x="360.9" y="559.7" width="13.4" height="4.9" rx="2.3"/><rect x="290.7" y="566.1" width="19.0" height="6.5" rx="2.6"/><rect x="311.2" y="566.5" width="16.5" height="6.5" rx="2.6"/><rect x="329.2" y="566.3" width="12.7" height="7.6" rx="2.6"/><rect x="343.5" y="565.7" width="20.5" height="7.4" rx="2.6"/><rect x="365.5" y="565.4" width="8.8" height="7.8" rx="2.6"/><rect x="291.9" y="574.5" width="18.9" height="4.3" rx="2.0"/><rect x="312.4" y="573.9" width="11.4" height="3.4" rx="1.7"/><rect x="325.3" y="574.1" width="17.5" height="3.5" rx="1.7"/><rect x="344.3" y="575.2" width="16.6" height="3.2" rx="1.6"/><rect x="362.4" y="575.1" width="11.9" height="3.0" rx="1.5"/><rect x="129.2" y="579.0" width="17.5" height="8.2" rx="2.0"/><rect x="148.7" y="579.3" width="19.8" height="8.2" rx="2.0"/><rect x="170.1" y="579.4" width="16.1" height="8.2" rx="2.0"/><rect x="187.8" y="579.8" width="22.3" height="8.2" rx="2.0"/><rect x="211.5" y="579.4" width="28.0" height="8.2" rx="2.0"/><rect x="241.4" y="579.3" width="17.9" height="8.2" rx="2.0"/><rect x="260.6" y="579.0" width="14.5" height="8.2" rx="2.0"/><rect x="277.2" y="579.7" width="14.5" height="8.2" rx="2.0"/><rect x="293.2" y="579.2" width="23.2" height="8.2" rx="2.0"/><rect x="317.4" y="579.0" width="17.7" height="8.2" rx="2.0"/><rect x="337.5" y="579.6" width="29.0" height="8.2" rx="2.0"/><rect x="367.8" y="579.1" width="7.7" height="8.2" rx="2.0"/><rect x="156.0" y="589.0" width="73.4" height="32.5" rx="3"/><rect x="229.8" y="597.4" width="49.6" height="26.9" rx="3"/><rect x="279.8" y="604.2" width="15.3" height="4.1" rx="2.0"/><rect x="296.6" y="604.3" width="11.4" height="4.8" rx="2.2"/><rect x="277.5" y="610.9" width="9.5" height="4.6" rx="2.2"/><rect x="288.6" y="610.0" width="9.9" height="5.5" rx="2.5"/><rect x="299.9" y="609.6" width="8.1" height="6.4" rx="2.6"/><rect x="279.6" y="616.8" width="16.2" height="6.5" rx="2.6"/><rect x="297.3" y="616.9" width="10.7" height="7.2" rx="2.6"/><rect x="279.4" y="625.1" width="19.8" height="4.8" rx="2.2"/><rect x="300.7" y="624.5" width="7.3" height="6.1" rx="2.6"/><rect x="280.8" y="632.0" width="17.3" height="5.2" rx="2.4"/><rect x="299.7" y="631.8" width="8.3" height="5.3" rx="2.4"/><rect x="279.3" y="637.9" width="11.2" height="5.4" rx="2.5"/><rect x="292.0" y="638.8" width="16.0" height="4.7" rx="2.2"/><rect x="310.5" y="591.1" width="16.9" height="8.7" rx="2.6"/><rect x="328.9" y="591.4" width="20.1" height="7.9" rx="2.6"/><rect x="350.6" y="591.9" width="14.2" height="7.9" rx="2.6"/><rect x="366.3" y="590.9" width="8.0" height="9.0" rx="2.6"/><rect x="309.4" y="600.8" width="14.8" height="5.8" rx="2.6"/><rect x="325.7" y="601.3" width="18.0" height="6.4" rx="2.6"/><rect x="345.2" y="600.0" width="20.6" height="6.9" rx="2.6"/><rect x="367.3" y="600.3" width="7.0" height="7.5" rx="2.6"/><rect x="310.1" y="608.7" width="16.9" height="9.6" rx="2.6"/><rect x="328.4" y="607.9" width="15.3" height="9.0" rx="2.6"/><rect x="345.2" y="608.5" width="11.0" height="8.4" rx="2.6"/><rect x="357.8" y="608.0" width="16.5" height="8.7" rx="2.6"/><rect x="310.9" y="618.9" width="19.6" height="7.8" rx="2.6"/><rect x="331.9" y="619.4" width="10.0" height="7.9" rx="2.6"/><rect x="343.4" y="618.1" width="12.7" height="9.0" rx="2.6"/><rect x="357.6" y="619.2" width="16.7" height="8.4" rx="2.6"/><rect x="309.5" y="628.2" width="11.6" height="2.0" rx="0.8"/><rect x="322.6" y="628.8" width="15.8" height="2.0" rx="0.7"/><rect x="339.9" y="627.9" width="20.4" height="2.6" rx="1.4"/><rect x="361.8" y="627.6" width="10.1" height="2.0" rx="1.0"/><rect x="353.4" y="509.0" width="20.5" height="9.5" rx="3"/><rect x="329.8" y="518.9" width="17.4" height="14.0" rx="3"/><rect x="375.9" y="505.9" width="23.0" height="14.0" rx="2.0"/><rect x="375.8" y="520.3" width="23.0" height="14.0" rx="2.0"/><rect x="375.4" y="534.3" width="23.0" height="14.0" rx="2.0"/><rect x="375.6" y="548.1" width="23.0" height="17.0" rx="2.0"/><rect x="375.4" y="564.7" width="23.0" height="15.0" rx="2.0"/><rect x="375.5" y="580.0" width="23.0" height="16.0" rx="2.0"/><rect x="375.4" y="596.5" width="23.0" height="16.0" rx="2.0"/><rect x="375.2" y="612.4" width="23.0" height="16.0" rx="2.0"/><rect x="375.6" y="627.6" width="23.0" height="32.0" rx="2.0"/></g>
<g fill="none" stroke="#c6c6c6" stroke-width="1.0">
<path d="M129.3 613.3 L157 618.5 L230 629 L300 650 L375 671 L399 676"/>
<path d="M1213 711.3 L1259 714.4"/>
</g>
<g transform="translate(380,600) scale(0.20708)" fill="none" stroke="#c4c4c4"><path vector-effect="non-scaling-stroke" stroke-width="1" d="M90 160 L200 165 L400 185 L600 200 L640 215 L645 300 L680 300 L690 270"/><path vector-effect="non-scaling-stroke" stroke-width="1" d="M0 230 L100 240 L250 290 L400 330 L600 370 L700 380 L860 400"/><path vector-effect="non-scaling-stroke" stroke-width="1" d="M0 290 L60 290 L130 310"/><path vector-effect="non-scaling-stroke" stroke-width="1" d="M0 340 L90 340 L230 370 L400 420 L600 480 L820 520"/><path vector-effect="non-scaling-stroke" stroke-width="1" d="M860 250 L865 420 L870 580"/><path vector-effect="non-scaling-stroke" stroke-width="1" d="M880 250 L900 270 L890 420 L880 580"/><path vector-effect="non-scaling-stroke" stroke-width="1" d="M900 262 L1240 290 L1290 400 L1300 600 L1280 630 L1100 615 L880 580"/><path vector-effect="non-scaling-stroke" stroke-width="1" d="M1240 250 L1500 245 L1800 230 L2028 180"/><path vector-effect="non-scaling-stroke" stroke-width="1" d="M1440 340 L1600 330 L1800 360"/><path vector-effect="non-scaling-stroke" stroke-width="1" d="M1660 295 L1780 290"/><path vector-effect="non-scaling-stroke" stroke-width="1" d="M1700 280 L1920 240"/><path vector-effect="non-scaling-stroke" stroke-width="1" d="M1980 230 L2028 215"/><path vector-effect="non-scaling-stroke" stroke-width="1" d="M1400 435 L1520 425 L1640 437"/><path vector-effect="non-scaling-stroke" stroke-width="1" d="M1610 530 L1700 550"/><path vector-effect="non-scaling-stroke" stroke-width="1" d="M1650 515 L1750 550 L1910 610"/><path vector-effect="non-scaling-stroke" stroke-width="1" d="M1800 590 L1900 610 L2028 640"/></g>
<g transform="translate(790,600) scale(0.23669)" fill="none" stroke="#c4c4c4"><path vector-effect="non-scaling-stroke" stroke-width="1" d="M0 130 L70 140 L0 165"/><path vector-effect="non-scaling-stroke" stroke-width="1" d="M0 205 L150 175 L295 165"/><path vector-effect="non-scaling-stroke" stroke-width="1" d="M155 197 L330 207 L515 205"/><path vector-effect="non-scaling-stroke" stroke-width="1" d="M910 190 L940 180 L1200 180 L1460 187"/><path vector-effect="non-scaling-stroke" stroke-width="1" d="M905 215 L1075 220"/><path vector-effect="non-scaling-stroke" stroke-width="1" d="M1130 420 L1250 395 L1555 400"/><path vector-effect="non-scaling-stroke" stroke-width="1" d="M1255 440 L1360 435 L1500 440 L1620 460 L1730 470"/><path vector-effect="non-scaling-stroke" stroke-width="1" d="M1785 470 L1980 483"/><path vector-effect="non-scaling-stroke" stroke-width="1" d="M915 495 L1020 497 L1095 512"/><path vector-effect="non-scaling-stroke" stroke-width="1" d="M780 555 L1000 538"/><path vector-effect="non-scaling-stroke" stroke-width="1" d="M0 555 L65 560"/><path vector-effect="non-scaling-stroke" stroke-width="1" d="M0 130 L160 110 L360 85 L490 85 L900 88 M900 145 L1600 185"/></g>
<g fill="none" stroke="#111" stroke-linejoin="round" stroke-linecap="round">
<path stroke-width="1.9" d="M92 610 L107 613.6 L130 620.2 L179.6 635.6 L216 642 L279 657.7 L337.4 670.3 L365.8 673.5 L399 676.3 L436.9 687.7 L460.7 691.7 L519 703.6 L532.3 707.6 L560.1 720.8 L607.8 729.6 L619.7 734 L627.7 734.6 L637 739.4 L659.5 742 L704.6 756.6 L720.5 760.6 L780.6 781.8"/>
<path stroke-width="1.4" d="M780.6 781.8 L1010.8 765.6 L1242.8 760 L1259 758 L1290 753.6 L1312.8 753.3 L1345.3 749.2 L1394 747.9 L1449.5 748.3 L1524.3 754.4 L1564 757.3 L1687 763.9 L1801 785.3 L1895.3 802.3 L1932.7 818.5"/>
<path stroke-width="1.3" d="M92 580.8 L129.2 580.5"/>
<path stroke-width="1.3" d="M92 589 L99.2 588.9 L110.2 592 L118 594.6 L129.2 595.4"/>
<path stroke-width="1.1" d="M92 607 L129.3 613.3"/>
<path stroke-width="1.0" d="M104 604 Q103 607 105 609 M111 604 Q113 607 111 609"/>
<path stroke-width="1.2" d="M1259 714.4 L1300 717 L1403.9 730.7 L1524.3 754.4"/>
<path stroke-width="1.2" d="M1405.5 730.7 L1454.4 725.1 L1508.7 726.7 L1554.3 711.1 L1560.8 696.5 L1562.7 667.2 L1548.7 652.5 L1516.2 652.5 L1465.7 644.4 L1465.7 629.1 L1390.9 629.1 L1390.9 620"/>
<path stroke-width="1.2" d="M1564 677 L1573.8 677 L1573.8 691.6 L1584.5 691.6 L1584.5 706.2 L1605 706.2 L1605 721 L1619.4 721 L1619.4 735.5 L1623.6 735.5 L1623.6 750.2 L1629.4 750.2 L1629.4 760.6"/>
<path stroke-width="1.2" d="M1648 634.6 L1672.4 668.8 L1680.5 695.5 L1675.7 707.9 L1683.8 724.1 L1709.8 734.6 L1732.6 737.2 L1747.3 754.4 L1801 759.3 L1880.7 756 L1895.3 743.7 L1900.2 721 L1898.6 698.1 L1875.8 681.8 L1862.8 659 L1836.7 651 L1801 649"/>
<path stroke-width="1.2" d="M1895.3 738.8 L1932.7 765.8"/>
<path stroke-width="1.1" d="M1660 661 L1700 657 L1790 655 L1805 654"/>
<path stroke-width="1.1" d="M1700 663 L1790 660 L1805 657"/>
<path stroke-width="1.1" d="M1701 674 L1740 684 L1790 688 L1880 683"/>
<path stroke-width="1.1" d="M1833 692 L1887 693"/>
</g>
<g transform="translate(1190,400) scale(0.19724)" fill="none" stroke="#1a1a1a" stroke-width="1.1" vector-effect="non-scaling-stroke" stroke-linejoin="round">
<path vector-effect="non-scaling-stroke" stroke="#bdbdbd" d="M350 160 L310 160 L200 180 L110 210 L45 360 L75 430 L120 470 L350 468"/>
<path vector-effect="non-scaling-stroke" d="M350 160 L440 165 L470 170 L570 160 L655 128 L720 190 L750 280 L720 340 L700 400 L700 440 L660 450 L500 468 L350 468"/>
<path vector-effect="non-scaling-stroke" d="M735 365 L760 320 L800 300 L850 285 L880 245 L885 200 L935 140 L1000 115 L1120 102 L1190 110 L1240 135 L1290 145 L1340 170 L1400 190"/>
<path vector-effect="non-scaling-stroke" d="M1240 130 L1600 128 L1660 140"/>
<path vector-effect="non-scaling-stroke" d="M865 278 L960 285 L1020 290 L1100 275"/>
<path vector-effect="non-scaling-stroke" d="M400 490 L490 505 L730 505 L830 515 L910 530"/>
<path vector-effect="non-scaling-stroke" d="M565 585 L640 565 L745 548 L855 550"/>
<path vector-effect="non-scaling-stroke" d="M475 640 L520 645 L625 665"/>
<path vector-effect="non-scaling-stroke" d="M955 625 L1040 605 L1115 590 M1015 645 L1090 625 L1120 590"/>
<path vector-effect="non-scaling-stroke" d="M1190 500 L1100 545 L1060 580"/>
<path vector-effect="non-scaling-stroke" d="M775 960 L725 905 L740 740 L800 700 L1090 685 L1320 690 L1440 745 L1560 785 L1610 855 L1600 870 L1530 870 L1480 890 L1340 910 Z"/>
<path vector-effect="non-scaling-stroke" d="M1160 460 L1250 545 L1290 600 L1360 625 L1460 755"/>
<path vector-effect="non-scaling-stroke" d="M1300 605 L1695 605"/>
<path vector-effect="non-scaling-stroke" d="M1370 630 L1420 660 L1520 645 L1720 660 L1750 670 L1850 670"/>
<path vector-effect="non-scaling-stroke" d="M1860 650 L1920 615 L1890 540 L1820 490 L1740 470"/>
<path vector-effect="non-scaling-stroke" d="M1910 530 L1960 535 L2028 560"/>
<path vector-effect="non-scaling-stroke" d="M1520 870 L1660 880 L1850 940 L2028 980"/>
<path vector-effect="non-scaling-stroke" d="M1610 760 L1760 800 L1850 825 L2028 860"/>
<path vector-effect="non-scaling-stroke" d="M1635 950 L1780 960 L2028 1010"/>
<path vector-effect="non-scaling-stroke" d="M1715 990 L1860 1015"/>
<path vector-effect="non-scaling-stroke" d="M1365 1020 L1430 1045 L1560 1080 L1735 1140"/>
<path vector-effect="non-scaling-stroke" d="M595 1112 L1020 1112 L1020 1162 L1395 1162 L1395 1240 L1500 1260 L1660 1278 L1810 1280 L1850 1318"/>
<path vector-effect="non-scaling-stroke" d="M1920 1115 L1990 1120 L2028 1125"/>
</g>
<g transform="translate(1520,480) scale(0.147929)" fill="none" stroke="#151515" stroke-linejoin="round">
<path vector-effect="non-scaling-stroke" stroke-width="1.1" d="M190 58 L205 90 L260 130 L300 200 L330 270 L300 310 L250 330"/>
<path vector-effect="non-scaling-stroke" stroke-width="1.1" d="M310 165 L420 180 L490 215"/>
<path vector-effect="non-scaling-stroke" stroke-width="1.1" d="M0 330 L90 350 L180 355 L300 385 L410 430 L440 470"/>
<path vector-effect="non-scaling-stroke" stroke-width="1.2" d="M440 420 L470 560 L490 610 L600 650 L680 760 L730 830 L800 940 L860 1040 L900 1110 L980 1217"/>
<path vector-effect="non-scaling-stroke" stroke-width="1.1" d="M0 490 L120 530 L300 570 L480 610"/>
<path vector-effect="non-scaling-stroke" stroke-width="1.1" d="M0 640 L180 700 L300 720 L450 740 L600 730"/>
<path vector-effect="non-scaling-stroke" stroke-width="1.1" d="M0 730 L250 760 L430 790 L600 830 L720 850"/>
<path vector-effect="non-scaling-stroke" stroke-width="1.1" d="M55 775 L270 810"/>
<path vector-effect="non-scaling-stroke" stroke-width="1.1" d="M0 960 L90 985"/>
<path vector-effect="non-scaling-stroke" stroke-width="1.1" d="M340 945 L460 960 L600 990 L760 1040 L870 1090"/>
<path vector-effect="non-scaling-stroke" stroke-width="1.1" d="M0 1165 L190 1165 L240 1217"/>
<path vector-effect="non-scaling-stroke" stroke-width="1.1" d="M780 1100 L920 1130 L1050 1150 L1150 1165 L1250 1150"/>
</g>
<path d="M1328.1 475.9 L1336.0 473.4 L1397.1 471.4 L1404.0 462.7 L1414.9 451.7 L1434.6 445.8 L1434.6 437.9 L1499.7 431.6 L1518.4 424.1 L1590.0 417.4 L1599.4 416.8 L1625.0 411.9 L1650.7 409.9 L1674.4 412.8 L1698.0 412.8 L1709.9 414.8 L1723.7 421.7 L1733.6 427.6 L1749.3 432.6 L1769.1 440.5 L1788.8 444.4 L1801.6 448.3 L1801.0 452.0 L1785.0 446.0 L1750.0 433.0 L1703.0 420.0 L1617.0 420.0 L1576.0 433.0 L1560.0 440.0 L1530.0 450.0 L1549.0 492.3 L1328.0 492.3 Z" fill="url(#rh)" stroke="#ff4040" stroke-width="1"/>
<path d="M1599.4 416.0 L1612.0 413.0 L1625.0 410.5 L1635.0 406.0 L1650.7 408.0 L1674.4 411.0 L1698.0 411.5 L1712.0 414.0 L1724.0 419.0 L1735.0 426.0 L1750.0 431.0 L1770.0 438.0 L1789.0 443.0 L1801.0 446.0" fill="none" stroke="#333" stroke-width="0.9"/>
<rect x="1329.1" y="476.9" width="21.7" height="15.4" rx="2.5" fill="#fff" stroke="#fff" stroke-width="3.2"/><rect x="1352.7" y="476.9" width="28.6" height="15.4" rx="2.5" fill="#fff" stroke="#fff" stroke-width="3.2"/><rect x="1383.3" y="476.9" width="27.6" height="15.4" rx="2.5" fill="#fff" stroke="#fff" stroke-width="3.2"/><rect x="1412.9" y="476.9" width="28.6" height="15.4" rx="2.5" fill="#fff" stroke="#fff" stroke-width="3.2"/><rect x="1443.5" y="476.9" width="21.7" height="15.4" rx="2.5" fill="#fff" stroke="#fff" stroke-width="3.2"/><rect x="1467.1" y="476.9" width="32.5" height="15.4" rx="2.5" fill="#fff" stroke="#fff" stroke-width="3.2"/><rect x="1501.6" y="476.9" width="32.5" height="15.4" rx="2.5" fill="#fff" stroke="#fff" stroke-width="3.2"/><rect x="1536.2" y="476.9" width="11.8" height="15.4" rx="2.5" fill="#fff" stroke="#fff" stroke-width="3.2"/><rect x="1402.0" y="467.5" width="25.6" height="9.5" rx="2.5" fill="#fff" stroke="#fff" stroke-width="3.2"/><rect x="1429.6" y="467.5" width="23.7" height="9.5" rx="2.5" fill="#fff" stroke="#fff" stroke-width="3.2"/><rect x="1455.3" y="467.5" width="30.6" height="9.5" rx="2.5" fill="#fff" stroke="#fff" stroke-width="3.2"/><rect x="1488.8" y="467.5" width="35.5" height="9.5" rx="2.5" fill="#fff" stroke="#fff" stroke-width="3.2"/><rect x="1414.9" y="452.9" width="29.6" height="13.2" rx="2.5" fill="#fff" stroke="#fff" stroke-width="3.2"/><rect x="1446.4" y="452.9" width="22.7" height="13.2" rx="2.5" fill="#fff" stroke="#fff" stroke-width="3.2"/><rect x="1472.1" y="452.9" width="25.6" height="13.2" rx="2.5" fill="#fff" stroke="#fff" stroke-width="3.2"/><rect x="1499.7" y="452.9" width="23.7" height="13.2" rx="2.5" fill="#fff" stroke="#fff" stroke-width="3.2"/><rect x="1435.6" y="441.4" width="22.7" height="9.5" rx="2.5" fill="#fff" stroke="#fff" stroke-width="3.2"/><rect x="1460.2" y="441.4" width="20.7" height="9.5" rx="2.5" fill="#fff" stroke="#fff" stroke-width="3.2"/><rect x="1482.9" y="441.4" width="24.7" height="9.5" rx="2.5" fill="#fff" stroke="#fff" stroke-width="3.2"/><rect x="1510.5" y="441.4" width="27.6" height="9.5" rx="2.5" fill="#fff" stroke="#fff" stroke-width="3.2"/><rect x="1541.1" y="441.4" width="14.8" height="9.5" rx="2.5" fill="#fff" stroke="#fff" stroke-width="3.2"/><rect x="1500.7" y="434.5" width="17.8" height="6.9" rx="2.5" fill="#fff" stroke="#fff" stroke-width="3.2"/><rect x="1521.4" y="434.5" width="8.9" height="6.9" rx="2.5" fill="#fff" stroke="#fff" stroke-width="3.2"/><rect x="1532.2" y="434.5" width="23.7" height="6.9" rx="2.5" fill="#fff" stroke="#fff" stroke-width="3.2"/><rect x="1557.9" y="434.5" width="16.8" height="6.9" rx="2.5" fill="#fff" stroke="#fff" stroke-width="3.2"/><rect x="1523.3" y="427.6" width="14.8" height="6.3" rx="2.5" fill="#fff" stroke="#fff" stroke-width="3.2"/><rect x="1540.1" y="427.6" width="18.7" height="6.3" rx="2.5" fill="#fff" stroke="#fff" stroke-width="3.2"/><rect x="1561.8" y="427.6" width="20.7" height="6.3" rx="2.5" fill="#fff" stroke="#fff" stroke-width="3.2"/><rect x="1329.1" y="476.9" width="21.7" height="15.4" rx="2.5" fill="#f28a8c" stroke="#e83a3a" stroke-width="1"/><rect x="1352.7" y="476.9" width="28.6" height="15.4" rx="2.5" fill="#f28a8c" stroke="#e83a3a" stroke-width="1"/><rect x="1383.3" y="476.9" width="27.6" height="15.4" rx="2.5" fill="#f28a8c" stroke="#e83a3a" stroke-width="1"/><rect x="1412.9" y="476.9" width="28.6" height="15.4" rx="2.5" fill="#f28a8c" stroke="#e83a3a" stroke-width="1"/><rect x="1443.5" y="476.9" width="21.7" height="15.4" rx="2.5" fill="#f28a8c" stroke="#e83a3a" stroke-width="1"/><rect x="1467.1" y="476.9" width="32.5" height="15.4" rx="2.5" fill="#f28a8c" stroke="#e83a3a" stroke-width="1"/><rect x="1501.6" y="476.9" width="32.5" height="15.4" rx="2.5" fill="#f28a8c" stroke="#e83a3a" stroke-width="1"/><rect x="1536.2" y="476.9" width="11.8" height="15.4" rx="2.5" fill="#f28a8c" stroke="#e83a3a" stroke-width="1"/>
<rect x="1402.0" y="467.5" width="25.6" height="9.5" rx="2.5" fill="#f28a8c" stroke="#e83a3a" stroke-width="1"/><rect x="1429.6" y="467.5" width="23.7" height="9.5" rx="2.5" fill="#f28a8c" stroke="#e83a3a" stroke-width="1"/><rect x="1455.3" y="467.5" width="30.6" height="9.5" rx="2.5" fill="#f28a8c" stroke="#e83a3a" stroke-width="1"/><rect x="1488.8" y="467.5" width="35.5" height="9.5" rx="2.5" fill="#f28a8c" stroke="#e83a3a" stroke-width="1"/>
<rect x="1414.9" y="452.9" width="29.6" height="13.2" rx="2.5" fill="#f28a8c" stroke="#e83a3a" stroke-width="1"/><rect x="1446.4" y="452.9" width="22.7" height="13.2" rx="2.5" fill="#f28a8c" stroke="#e83a3a" stroke-width="1"/><rect x="1472.1" y="452.9" width="25.6" height="13.2" rx="2.5" fill="#f28a8c" stroke="#e83a3a" stroke-width="1"/><rect x="1499.7" y="452.9" width="23.7" height="13.2" rx="2.5" fill="#f28a8c" stroke="#e83a3a" stroke-width="1"/>
<rect x="1435.6" y="441.4" width="22.7" height="9.5" rx="2.5" fill="#f28a8c" stroke="#e83a3a" stroke-width="1"/><rect x="1460.2" y="441.4" width="20.7" height="9.5" rx="2.5" fill="#f28a8c" stroke="#e83a3a" stroke-width="1"/><rect x="1482.9" y="441.4" width="24.7" height="9.5" rx="2.5" fill="#f28a8c" stroke="#e83a3a" stroke-width="1"/><rect x="1510.5" y="441.4" width="27.6" height="9.5" rx="2.5" fill="#f28a8c" stroke="#e83a3a" stroke-width="1"/><rect x="1541.1" y="441.4" width="14.8" height="9.5" rx="2.5" fill="#f28a8c" stroke="#e83a3a" stroke-width="1"/>
<rect x="1500.7" y="434.5" width="17.8" height="6.9" rx="2.5" fill="#f28a8c" stroke="#e83a3a" stroke-width="1"/><rect x="1521.4" y="434.5" width="8.9" height="6.9" rx="2.5" fill="#f28a8c" stroke="#e83a3a" stroke-width="1"/><rect x="1532.2" y="434.5" width="23.7" height="6.9" rx="2.5" fill="#f28a8c" stroke="#e83a3a" stroke-width="1"/><rect x="1557.9" y="434.5" width="16.8" height="6.9" rx="2.5" fill="#f28a8c" stroke="#e83a3a" stroke-width="1"/>
<rect x="1523.3" y="427.6" width="14.8" height="6.3" rx="2.5" fill="#f28a8c" stroke="#e83a3a" stroke-width="1"/><rect x="1540.1" y="427.6" width="18.7" height="6.3" rx="2.5" fill="#f28a8c" stroke="#e83a3a" stroke-width="1"/><rect x="1561.8" y="427.6" width="20.7" height="6.3" rx="2.5" fill="#f28a8c" stroke="#e83a3a" stroke-width="1"/>
<g transform="translate(1190,400) scale(0.19724)" fill="#fff" stroke="#111" stroke-linejoin="round">
<path vector-effect="non-scaling-stroke" stroke-width="1.1" d="M1700 285 L1760 280 L1800 300 L1795 365 L1725 345 Z"/>
<path vector-effect="non-scaling-stroke" stroke-width="1.1" d="M1775 255 L1840 250 L1858 270 L1850 318 L1790 312 Z"/>
<path vector-effect="non-scaling-stroke" stroke-width="1.1" d="M1860 272 L1900 278 L1905 330 L1862 325 Z"/>
<path vector-effect="non-scaling-stroke" stroke-width="1.1" d="M1905 282 L1955 285 L1962 345 L1908 338 Z"/>
<path vector-effect="non-scaling-stroke" stroke-width="1.1" d="M1805 325 L1958 350 L1960 405 L1800 372 Z"/>
<path vector-effect="non-scaling-stroke" stroke-width="1.1" d="M1765 372 L1900 400 L1900 452 L1790 420 Z"/>
<path vector-effect="non-scaling-stroke" stroke-width="1.1" d="M1905 412 L1985 420 L1990 470 L1905 455 Z"/>
<path vector-effect="non-scaling-stroke" stroke-width="1.1" d="M1968 340 L2028 335 L2028 400 L1968 402 Z"/>
<path vector-effect="non-scaling-stroke" stroke-width="1.1" d="M1962 410 L2028 405 L2028 470 L1995 470 Z"/>
<path vector-effect="non-scaling-stroke" stroke-width="1.1" d="M1990 480 L2028 476 L2028 545 L2000 540 Z"/>
<path vector-effect="non-scaling-stroke" stroke-width="1.1" d="M1700 335 L1760 395 L1820 440 L1820 490"/>
<path vector-effect="non-scaling-stroke" stroke-width="1.3" fill="none" d="M350 710 L378 712 L392 745 L398 800 L352 802 Z"/>
<path vector-effect="non-scaling-stroke" stroke-width="1.3" fill="none" d="M355 805 L430 808 L446 840 L440 885 L352 885 Z"/>
<path vector-effect="non-scaling-stroke" stroke-width="1.3" fill="none" d="M350 888 L398 890 L400 945 L352 945 Z"/>
<path vector-effect="non-scaling-stroke" stroke-width="1.3" fill="none" d="M402 890 L470 885 L490 905 L485 945 L402 945 Z"/>
<path vector-effect="non-scaling-stroke" stroke-width="1.3" fill="none" d="M410 898 L470 895 L478 935 L412 935 Z"/>
<path vector-effect="non-scaling-stroke" stroke-width="1.3" fill="none" d="M350 948 L470 960 L500 990 L480 930"/>
<path vector-effect="non-scaling-stroke" stroke-width="1.3" fill="none" d="M350 640 L350 710"/>
</g>
<path d="M1576 433 L1617 420 L1703 420 L1750 433 L1784 446 L1801 446 L1801 561 L1761 561 L1761 574 L1733 574 L1733 560 L1702 560 L1700 540 L1664 540 L1655 524 L1640 510 L1615 494 L1602 479 L1578 465 Z" fill="#cfe9cf"/>
<rect x="1617.1" y="420.1" width="16.8" height="12.0" rx="2.2" fill="url(#gs)" stroke="#2a3a2a" stroke-width="1.15"/><path d="M1621.9 429.1 Q1624.9 430.0 1627.9 429.0" fill="none" stroke="#2a3a2a" stroke-width="0.9"/><rect x="1636.1" y="419.6" width="9.8" height="12.0" rx="2.2" fill="url(#gs)" stroke="#2a3a2a" stroke-width="1.15"/><rect x="1646.7" y="419.6" width="16.7" height="12.0" rx="2.2" fill="url(#gs)" stroke="#2a3a2a" stroke-width="1.15"/><path d="M1652.1 428.3 Q1655.5 428.2 1658.9 428.8" fill="none" stroke="#2a3a2a" stroke-width="0.9"/><path d="M1652.2 428.4 Q1656.5 427.1 1660.8 427.5" fill="none" stroke="#2a3a2a" stroke-width="0.9"/><rect x="1666.0" y="420.1" width="37.5" height="12.0" rx="2.2" fill="url(#gs)" stroke="#2a3a2a" stroke-width="1.15"/><path d="M1679.3 429.0 Q1684.1 429.5 1689.0 429.0" fill="none" stroke="#2a3a2a" stroke-width="0.9"/><rect x="1705.2" y="419.9" width="12.0" height="12.0" rx="2.2" fill="#f07e80" stroke="#e83030" stroke-width="1.15"/><rect x="1559.7" y="420.6" width="23.0" height="12.0" rx="2.2" fill="#f07e80" stroke="#e83030" stroke-width="1.15"/><rect x="1585.6" y="420.4" width="13.0" height="12.0" rx="2.2" fill="#f07e80" stroke="#e83030" stroke-width="1.15"/><rect x="1600.2" y="419.8" width="15.0" height="12.0" rx="2.2" fill="#f07e80" stroke="#e83030" stroke-width="1.15"/>
<rect x="1575.5" y="432.7" width="28.6" height="12.0" rx="2.2" fill="url(#gs)" stroke="#2a3a2a" stroke-width="1.15"/><rect x="1577.6" y="434.8" width="25.0" height="8.4" rx="2.5" fill="none" stroke="#2a3a2a" stroke-width="0.8"/><rect x="1606.3" y="433.4" width="20.6" height="12.0" rx="2.2" fill="url(#gs)" stroke="#2a3a2a" stroke-width="1.15"/><rect x="1608.2" y="434.8" width="17.0" height="8.4" rx="2.5" fill="none" stroke="#2a3a2a" stroke-width="0.8"/><rect x="1629.4" y="432.4" width="32.6" height="12.0" rx="2.2" fill="url(#gs)" stroke="#2a3a2a" stroke-width="1.15"/><rect x="1630.8" y="434.8" width="29.0" height="8.4" rx="2.5" fill="none" stroke="#2a3a2a" stroke-width="0.8"/><rect x="1664.5" y="433.6" width="26.7" height="12.0" rx="2.2" fill="url(#gs)" stroke="#2a3a2a" stroke-width="1.15"/><rect x="1666.3" y="434.8" width="23.1" height="8.4" rx="2.5" fill="none" stroke="#2a3a2a" stroke-width="0.8"/><rect x="1698.1" y="432.6" width="31.6" height="12.0" rx="2.2" fill="url(#gs)" stroke="#2a3a2a" stroke-width="1.15"/><path d="M1702.6 440.6 Q1709.5 441.3 1716.3 439.8" fill="none" stroke="#2a3a2a" stroke-width="0.9"/><rect x="1731.3" y="432.5" width="18.7" height="12.0" rx="2.2" fill="url(#gs)" stroke="#2a3a2a" stroke-width="1.15"/><rect x="1733.4" y="434.8" width="15.1" height="8.4" rx="2.5" fill="none" stroke="#2a3a2a" stroke-width="0.8"/><path d="M1735.6 441.2 Q1739.8 440.3 1744.1 441.7" fill="none" stroke="#2a3a2a" stroke-width="0.9"/><rect x="1559.6" y="433.2" width="14.0" height="12.0" rx="2.2" fill="#f07e80" stroke="#e83030" stroke-width="1.15"/>
<rect x="1578.2" y="445.9" width="35.5" height="18.0" rx="2.2" fill="url(#gs)" stroke="#2a3a2a" stroke-width="1.15"/><rect x="1580.5" y="447.8" width="31.9" height="14.4" rx="2.5" fill="none" stroke="#2a3a2a" stroke-width="0.8"/><path d="M1601.1 461.4 Q1605.4 462.9 1609.7 460.4" fill="none" stroke="#2a3a2a" stroke-width="0.9"/><rect x="1615.8" y="446.6" width="18.8" height="18.0" rx="2.2" fill="url(#gs)" stroke="#2a3a2a" stroke-width="1.15"/><path d="M1619.8 461.4 Q1623.2 460.7 1626.5 462.0" fill="none" stroke="#2a3a2a" stroke-width="0.9"/><path d="M1621.1 457.6 Q1623.9 456.3 1626.6 457.7" fill="none" stroke="#2a3a2a" stroke-width="0.9"/><rect x="1636.7" y="446.1" width="31.5" height="18.0" rx="2.2" fill="url(#gs)" stroke="#2a3a2a" stroke-width="1.15"/><rect x="1638.8" y="447.8" width="27.9" height="14.4" rx="2.5" fill="none" stroke="#2a3a2a" stroke-width="0.8"/><path d="M1642.4 459.2 Q1648.6 458.1 1654.8 459.0" fill="none" stroke="#2a3a2a" stroke-width="0.9"/><rect x="1671.6" y="445.8" width="28.6" height="18.0" rx="2.2" fill="url(#gs)" stroke="#2a3a2a" stroke-width="1.15"/><rect x="1673.2" y="447.8" width="25.0" height="14.4" rx="2.5" fill="none" stroke="#2a3a2a" stroke-width="0.8"/><path d="M1678.3 457.0 Q1684.1 458.3 1689.9 456.4" fill="none" stroke="#2a3a2a" stroke-width="0.9"/><path d="M1689.2 460.8 Q1692.9 460.6 1696.5 460.0" fill="none" stroke="#2a3a2a" stroke-width="0.9"/><rect x="1701.4" y="446.6" width="36.5" height="18.0" rx="2.2" fill="url(#gs)" stroke="#2a3a2a" stroke-width="1.15"/><rect x="1703.8" y="447.8" width="32.9" height="14.4" rx="2.5" fill="none" stroke="#2a3a2a" stroke-width="0.8"/><path d="M1714.2 458.3 Q1720.8 458.2 1727.3 458.3" fill="none" stroke="#2a3a2a" stroke-width="0.9"/><path d="M1726.8 461.4 Q1729.6 461.3 1732.4 461.7" fill="none" stroke="#2a3a2a" stroke-width="0.9"/><rect x="1741.6" y="445.5" width="16.7" height="18.0" rx="2.2" fill="url(#gs)" stroke="#2a3a2a" stroke-width="1.15"/><rect x="1743.3" y="447.8" width="13.1" height="14.4" rx="2.5" fill="none" stroke="#2a3a2a" stroke-width="0.8"/><rect x="1760.5" y="445.5" width="23.7" height="18.0" rx="2.2" fill="url(#gs)" stroke="#2a3a2a" stroke-width="1.15"/><rect x="1762.0" y="447.8" width="20.1" height="14.4" rx="2.5" fill="none" stroke="#2a3a2a" stroke-width="0.8"/><rect x="1784.5" y="445.6" width="15.6" height="18.0" rx="2.2" fill="#f07e80" stroke="#e83030" stroke-width="1.15"/>
<rect x="1577.6" y="465.1" width="23.6" height="14.0" rx="2.2" fill="#fff" stroke="#111" stroke-width="1.15"/><rect x="1579.6" y="466.8" width="20.0" height="10.4" rx="2.5" fill="none" stroke="#111" stroke-width="0.8"/><path d="M1582.3 474.4 Q1586.3 475.1 1590.2 474.5" fill="none" stroke="#111" stroke-width="0.9"/><rect x="1602.9" y="465.1" width="25.6" height="14.0" rx="2.2" fill="url(#gs)" stroke="#2a3a2a" stroke-width="1.15"/><path d="M1616.9 475.4 Q1621.4 473.9 1625.8 475.6" fill="none" stroke="#2a3a2a" stroke-width="0.9"/><rect x="1630.0" y="465.3" width="26.6" height="14.0" rx="2.2" fill="url(#gs)" stroke="#2a3a2a" stroke-width="1.15"/><rect x="1631.8" y="466.8" width="23.0" height="10.4" rx="2.5" fill="none" stroke="#2a3a2a" stroke-width="0.8"/><rect x="1658.1" y="465.1" width="21.7" height="14.0" rx="2.2" fill="url(#gs)" stroke="#2a3a2a" stroke-width="1.15"/><path d="M1668.0 473.2 Q1673.1 472.7 1678.1 472.4" fill="none" stroke="#2a3a2a" stroke-width="0.9"/><path d="M1665.7 473.0 Q1671.5 474.3 1677.2 472.1" fill="none" stroke="#2a3a2a" stroke-width="0.9"/><rect x="1682.3" y="464.4" width="11.7" height="14.0" rx="2.2" fill="url(#gs)" stroke="#2a3a2a" stroke-width="1.15"/><path d="M1684.5 475.0 Q1687.1 475.4 1689.7 476.0" fill="none" stroke="#2a3a2a" stroke-width="0.9"/><rect x="1696.5" y="465.3" width="28.7" height="14.0" rx="2.2" fill="url(#gs)" stroke="#2a3a2a" stroke-width="1.15"/><rect x="1697.8" y="466.8" width="25.1" height="10.4" rx="2.5" fill="none" stroke="#2a3a2a" stroke-width="0.8"/><path d="M1709.9 474.4 Q1714.2 474.6 1718.5 474.5" fill="none" stroke="#2a3a2a" stroke-width="0.9"/><path d="M1707.1 473.9 Q1710.0 472.4 1712.9 474.8" fill="none" stroke="#2a3a2a" stroke-width="0.9"/><rect x="1727.2" y="465.3" width="28.5" height="14.0" rx="2.2" fill="url(#gs)" stroke="#2a3a2a" stroke-width="1.15"/><path d="M1734.7 472.7 Q1738.5 473.3 1742.4 472.1" fill="none" stroke="#2a3a2a" stroke-width="0.9"/><rect x="1758.8" y="465.5" width="18.8" height="14.0" rx="2.2" fill="url(#gs)" stroke="#2a3a2a" stroke-width="1.15"/><path d="M1765.1 473.6 Q1768.8 472.9 1772.5 473.9" fill="none" stroke="#2a3a2a" stroke-width="0.9"/><rect x="1780.4" y="465.3" width="20.6" height="14.0" rx="2.2" fill="url(#gh)" stroke="#2a3a2a" stroke-width="1.15"/><rect x="1781.8" y="466.8" width="17.0" height="10.4" rx="2.5" fill="none" stroke="#2a3a2a" stroke-width="0.8"/>
<rect x="1578.6" y="480.1" width="35.5" height="14.0" rx="2.2" fill="#fff" stroke="#111" stroke-width="1.15"/><rect x="1580.5" y="481.8" width="31.9" height="10.4" rx="2.5" fill="none" stroke="#111" stroke-width="0.8"/><rect x="1614.8" y="479.8" width="31.6" height="14.0" rx="2.2" fill="url(#gs)" stroke="#2a3a2a" stroke-width="1.15"/><rect x="1650.0" y="480.5" width="36.5" height="14.0" rx="2.2" fill="url(#gs)" stroke="#2a3a2a" stroke-width="1.15"/><rect x="1651.5" y="481.8" width="32.9" height="10.4" rx="2.5" fill="none" stroke="#2a3a2a" stroke-width="0.8"/><rect x="1688.7" y="480.0" width="20.8" height="14.0" rx="2.2" fill="url(#gs)" stroke="#2a3a2a" stroke-width="1.15"/><path d="M1695.2 489.7 Q1700.3 490.3 1705.4 490.4" fill="none" stroke="#2a3a2a" stroke-width="0.9"/><rect x="1712.1" y="479.8" width="26.5" height="14.0" rx="2.2" fill="url(#gs)" stroke="#2a3a2a" stroke-width="1.15"/><path d="M1726.8 487.9 Q1731.0 488.1 1735.1 487.5" fill="none" stroke="#2a3a2a" stroke-width="0.9"/><rect x="1740.8" y="479.4" width="26.5" height="14.0" rx="2.2" fill="url(#gs)" stroke="#2a3a2a" stroke-width="1.15"/><rect x="1742.3" y="481.8" width="22.9" height="10.4" rx="2.5" fill="none" stroke="#2a3a2a" stroke-width="0.8"/><path d="M1746.1 490.6 Q1749.8 491.5 1753.5 491.2" fill="none" stroke="#2a3a2a" stroke-width="0.9"/><rect x="1771.6" y="479.5" width="29.0" height="14.0" rx="2.2" fill="url(#gh)" stroke="#2a3a2a" stroke-width="1.15"/><rect x="1772.8" y="481.8" width="25.4" height="10.4" rx="2.5" fill="none" stroke="#2a3a2a" stroke-width="0.8"/><path d="M1784.5 490.8 Q1791.1 491.3 1797.6 490.2" fill="none" stroke="#2a3a2a" stroke-width="0.9"/><path d="M1781.6 488.4 Q1784.2 488.3 1786.7 488.8" fill="none" stroke="#2a3a2a" stroke-width="0.9"/>
<rect x="1584.3" y="494.2" width="21.7" height="15.5" rx="2.2" fill="#fff" stroke="#111" stroke-width="1.15"/><rect x="1586.5" y="496.3" width="18.1" height="11.9" rx="2.5" fill="none" stroke="#111" stroke-width="0.8"/><path d="M1595.9 505.3 Q1600.2 504.2 1604.4 506.0" fill="none" stroke="#111" stroke-width="0.9"/><path d="M1593.8 504.0 Q1597.4 505.2 1601.1 503.8" fill="none" stroke="#111" stroke-width="0.9"/><rect x="1608.2" y="494.1" width="29.7" height="15.5" rx="2.2" fill="#fff" stroke="#111" stroke-width="1.15"/><rect x="1639.9" y="494.6" width="30.5" height="15.5" rx="2.2" fill="url(#gs)" stroke="#2a3a2a" stroke-width="1.15"/><path d="M1651.1 505.9 Q1654.5 506.6 1658.0 506.6" fill="none" stroke="#2a3a2a" stroke-width="0.9"/><rect x="1672.6" y="494.8" width="27.6" height="15.5" rx="2.2" fill="url(#gs)" stroke="#2a3a2a" stroke-width="1.15"/><rect x="1674.2" y="496.3" width="24.0" height="11.9" rx="2.5" fill="none" stroke="#2a3a2a" stroke-width="0.8"/><path d="M1689.7 507.4 Q1693.1 508.3 1696.5 507.0" fill="none" stroke="#2a3a2a" stroke-width="0.9"/><rect x="1702.5" y="494.9" width="23.7" height="15.5" rx="2.2" fill="url(#gs)" stroke="#2a3a2a" stroke-width="1.15"/><rect x="1703.8" y="496.3" width="20.1" height="11.9" rx="2.5" fill="none" stroke="#2a3a2a" stroke-width="0.8"/><rect x="1727.0" y="494.3" width="27.7" height="15.5" rx="2.2" fill="url(#gs)" stroke="#2a3a2a" stroke-width="1.15"/><rect x="1729.4" y="496.3" width="24.1" height="11.9" rx="2.5" fill="none" stroke="#2a3a2a" stroke-width="0.8"/><path d="M1737.8 503.2 Q1743.9 501.8 1750.0 503.8" fill="none" stroke="#2a3a2a" stroke-width="0.9"/><rect x="1756.8" y="494.3" width="18.8" height="15.5" rx="2.2" fill="url(#gs)" stroke="#2a3a2a" stroke-width="1.15"/><rect x="1778.0" y="495.1" width="22.0" height="15.5" rx="2.2" fill="url(#gs)" stroke="#2a3a2a" stroke-width="1.15"/><path d="M1788.6 506.1 Q1793.2 506.1 1797.8 507.0" fill="none" stroke="#2a3a2a" stroke-width="0.9"/><path d="M1781.8 504.0 Q1786.6 503.4 1791.5 504.5" fill="none" stroke="#2a3a2a" stroke-width="0.9"/>
<rect x="1591.8" y="511.0" width="18.7" height="13.0" rx="2.2" fill="#fff" stroke="#111" stroke-width="1.15"/><path d="M1596.1 520.4 Q1602.0 521.5 1608.0 520.6" fill="none" stroke="#111" stroke-width="0.9"/><path d="M1596.3 518.6 Q1600.7 517.9 1605.1 518.6" fill="none" stroke="#111" stroke-width="0.9"/><rect x="1612.2" y="510.5" width="17.7" height="13.0" rx="2.2" fill="#fff" stroke="#111" stroke-width="1.15"/><rect x="1614.1" y="512.8" width="14.1" height="9.4" rx="2.5" fill="none" stroke="#111" stroke-width="0.8"/><path d="M1615.4 521.4 Q1619.9 521.1 1624.3 522.0" fill="none" stroke="#111" stroke-width="0.9"/><rect x="1632.1" y="511.0" width="22.7" height="13.0" rx="2.2" fill="#fff" stroke="#111" stroke-width="1.15"/><rect x="1656.2" y="511.0" width="28.6" height="13.0" rx="2.2" fill="url(#gs)" stroke="#2a3a2a" stroke-width="1.15"/><path d="M1662.9 519.7 Q1666.0 519.5 1669.0 520.4" fill="none" stroke="#2a3a2a" stroke-width="0.9"/><rect x="1685.8" y="511.0" width="32.5" height="13.0" rx="2.2" fill="url(#gs)" stroke="#2a3a2a" stroke-width="1.15"/><rect x="1687.1" y="512.8" width="28.9" height="9.4" rx="2.5" fill="none" stroke="#2a3a2a" stroke-width="0.8"/><rect x="1719.7" y="510.4" width="21.7" height="13.0" rx="2.2" fill="url(#gs)" stroke="#2a3a2a" stroke-width="1.15"/><rect x="1721.6" y="512.8" width="18.1" height="9.4" rx="2.5" fill="none" stroke="#2a3a2a" stroke-width="0.8"/><path d="M1729.6 518.2 Q1732.6 517.4 1735.5 518.6" fill="none" stroke="#2a3a2a" stroke-width="0.9"/><path d="M1725.6 519.3 Q1730.9 518.2 1736.1 519.8" fill="none" stroke="#2a3a2a" stroke-width="0.9"/><rect x="1742.9" y="511.0" width="28.6" height="13.0" rx="2.2" fill="url(#gs)" stroke="#2a3a2a" stroke-width="1.15"/><rect x="1745.2" y="512.8" width="25.0" height="9.4" rx="2.5" fill="none" stroke="#2a3a2a" stroke-width="0.8"/><rect x="1774.2" y="511.5" width="26.0" height="13.0" rx="2.2" fill="url(#gs)" stroke="#2a3a2a" stroke-width="1.15"/><rect x="1775.8" y="512.8" width="22.4" height="9.4" rx="2.5" fill="none" stroke="#2a3a2a" stroke-width="0.8"/><path d="M1782.4 519.9 Q1785.6 519.0 1788.8 520.2" fill="none" stroke="#2a3a2a" stroke-width="0.9"/><path d="M1785.3 519.9 Q1791.1 520.3 1796.9 520.6" fill="none" stroke="#2a3a2a" stroke-width="0.9"/>
<rect x="1594.2" y="525.3" width="40.5" height="15.0" rx="2.2" fill="#fff" stroke="#111" stroke-width="1.15"/><rect x="1636.8" y="524.8" width="25.6" height="15.0" rx="2.2" fill="#fff" stroke="#111" stroke-width="1.15"/><rect x="1664.8" y="524.6" width="22.7" height="15.0" rx="2.2" fill="url(#gs)" stroke="#2a3a2a" stroke-width="1.15"/><rect x="1666.3" y="526.8" width="19.1" height="11.4" rx="2.5" fill="none" stroke="#2a3a2a" stroke-width="0.8"/><rect x="1688.8" y="524.5" width="22.8" height="15.0" rx="2.2" fill="url(#gs)" stroke="#2a3a2a" stroke-width="1.15"/><rect x="1691.0" y="526.8" width="19.2" height="11.4" rx="2.5" fill="none" stroke="#2a3a2a" stroke-width="0.8"/><path d="M1700.4 535.0 Q1704.7 533.9 1709.0 534.8" fill="none" stroke="#2a3a2a" stroke-width="0.9"/><rect x="1713.2" y="524.4" width="21.6" height="15.0" rx="2.2" fill="url(#gs)" stroke="#2a3a2a" stroke-width="1.15"/><rect x="1714.8" y="526.8" width="18.0" height="11.4" rx="2.5" fill="none" stroke="#2a3a2a" stroke-width="0.8"/><path d="M1719.1 536.7 Q1723.1 537.4 1727.2 537.0" fill="none" stroke="#2a3a2a" stroke-width="0.9"/><path d="M1719.0 537.5 Q1725.1 538.4 1731.2 537.5" fill="none" stroke="#2a3a2a" stroke-width="0.9"/><rect x="1735.9" y="525.3" width="12.8" height="15.0" rx="2.2" fill="url(#gs)" stroke="#2a3a2a" stroke-width="1.15"/><path d="M1739.4 534.1 Q1742.1 533.1 1744.7 533.4" fill="none" stroke="#2a3a2a" stroke-width="0.9"/><path d="M1739.4 536.1 Q1742.8 535.0 1746.1 536.5" fill="none" stroke="#2a3a2a" stroke-width="0.9"/><rect x="1749.8" y="524.5" width="34.6" height="15.0" rx="2.2" fill="url(#gs)" stroke="#2a3a2a" stroke-width="1.15"/><rect x="1752.1" y="526.8" width="31.0" height="11.4" rx="2.5" fill="none" stroke="#2a3a2a" stroke-width="0.8"/><path d="M1764.4 535.1 Q1769.6 533.6 1774.8 535.5" fill="none" stroke="#2a3a2a" stroke-width="0.9"/><rect x="1787.2" y="524.6" width="13.2" height="15.0" rx="2.2" fill="url(#gs)" stroke="#2a3a2a" stroke-width="1.15"/><path d="M1789.9 537.2 Q1793.3 536.0 1796.8 537.8" fill="none" stroke="#2a3a2a" stroke-width="0.9"/><path d="M1789.9 533.6 Q1793.7 534.7 1797.5 534.4" fill="none" stroke="#2a3a2a" stroke-width="0.9"/>
<rect x="1589.1" y="540.6" width="22.7" height="19.5" rx="2.2" fill="#fff" stroke="#111" stroke-width="1.15"/><rect x="1590.4" y="542.3" width="19.1" height="15.9" rx="2.5" fill="none" stroke="#111" stroke-width="0.8"/><path d="M1601.1 556.3 Q1604.0 557.5 1607.0 556.8" fill="none" stroke="#111" stroke-width="0.9"/><path d="M1599.1 556.3 Q1602.7 557.5 1606.2 557.1" fill="none" stroke="#111" stroke-width="0.9"/><rect x="1613.5" y="540.8" width="25.7" height="19.5" rx="2.2" fill="#fff" stroke="#111" stroke-width="1.15"/><path d="M1618.9 552.4 Q1625.0 551.8 1631.1 551.6" fill="none" stroke="#111" stroke-width="0.9"/><rect x="1641.5" y="541.1" width="27.5" height="19.5" rx="2.2" fill="#fff" stroke="#111" stroke-width="1.15"/><rect x="1670.2" y="541.0" width="29.5" height="19.5" rx="2.2" fill="#fff" stroke="#111" stroke-width="1.15"/><path d="M1677.1 553.8 Q1680.4 552.5 1683.7 553.8" fill="none" stroke="#111" stroke-width="0.9"/><rect x="1702.0" y="540.2" width="38.5" height="19.5" rx="2.2" fill="url(#gs)" stroke="#2a3a2a" stroke-width="1.15"/><rect x="1703.8" y="542.3" width="34.9" height="15.9" rx="2.5" fill="none" stroke="#2a3a2a" stroke-width="0.8"/><path d="M1730.0 551.4 Q1733.6 552.1 1737.2 550.9" fill="none" stroke="#2a3a2a" stroke-width="0.9"/><rect x="1742.3" y="540.0" width="27.6" height="19.5" rx="2.2" fill="url(#gs)" stroke="#2a3a2a" stroke-width="1.15"/><rect x="1744.2" y="542.3" width="24.0" height="15.9" rx="2.5" fill="none" stroke="#2a3a2a" stroke-width="0.8"/><path d="M1745.6 552.8 Q1749.3 552.4 1753.0 552.9" fill="none" stroke="#2a3a2a" stroke-width="0.9"/><rect x="1770.9" y="540.5" width="29.0" height="19.5" rx="2.2" fill="#fff" stroke="#111" stroke-width="1.15"/>
<rect x="1592.7" y="561.4" width="28.5" height="13.0" rx="2.2" fill="#fff" stroke="#111" stroke-width="1.15"/><rect x="1594.3" y="562.8" width="24.9" height="9.4" rx="2.5" fill="none" stroke="#111" stroke-width="0.8"/><path d="M1605.9 571.4 Q1609.9 572.7 1614.0 571.1" fill="none" stroke="#111" stroke-width="0.9"/><path d="M1610.5 571.0 Q1614.0 571.3 1617.4 570.9" fill="none" stroke="#111" stroke-width="0.9"/><rect x="1623.0" y="560.7" width="27.7" height="13.0" rx="2.2" fill="#fff" stroke="#111" stroke-width="1.15"/><rect x="1624.8" y="562.8" width="24.1" height="9.4" rx="2.5" fill="none" stroke="#111" stroke-width="0.8"/><path d="M1631.4 569.1 Q1636.8 569.3 1642.3 568.7" fill="none" stroke="#111" stroke-width="0.9"/><rect x="1652.0" y="560.8" width="23.7" height="13.0" rx="2.2" fill="#fff" stroke="#111" stroke-width="1.15"/><rect x="1653.5" y="562.8" width="20.1" height="9.4" rx="2.5" fill="none" stroke="#111" stroke-width="0.8"/><rect x="1677.5" y="561.2" width="16.6" height="13.0" rx="2.2" fill="#fff" stroke="#111" stroke-width="1.15"/><rect x="1679.2" y="562.8" width="13.0" height="9.4" rx="2.5" fill="none" stroke="#111" stroke-width="0.8"/><path d="M1681.8 571.2 Q1686.2 569.8 1690.7 572.1" fill="none" stroke="#111" stroke-width="0.9"/><path d="M1683.8 568.4 Q1687.7 568.2 1691.7 568.4" fill="none" stroke="#111" stroke-width="0.9"/><rect x="1695.6" y="560.7" width="35.6" height="13.0" rx="2.2" fill="#fff" stroke="#111" stroke-width="1.15"/><path d="M1718.6 568.6 Q1723.5 567.9 1728.4 569.0" fill="none" stroke="#111" stroke-width="0.9"/><path d="M1699.1 569.5 Q1702.2 570.6 1705.2 569.3" fill="none" stroke="#111" stroke-width="0.9"/><rect x="1733.2" y="560.8" width="27.6" height="13.0" rx="2.2" fill="url(#gs)" stroke="#2a3a2a" stroke-width="1.15"/><rect x="1735.4" y="562.8" width="24.0" height="9.4" rx="2.5" fill="none" stroke="#2a3a2a" stroke-width="0.8"/><path d="M1743.3 569.0 Q1748.4 568.8 1753.5 569.6" fill="none" stroke="#2a3a2a" stroke-width="0.9"/><rect x="1762.2" y="561.6" width="25.6" height="13.0" rx="2.2" fill="#fff" stroke="#111" stroke-width="1.15"/><path d="M1766.8 569.8 Q1771.6 569.2 1776.4 569.8" fill="none" stroke="#111" stroke-width="0.9"/><path d="M1775.9 569.1 Q1779.9 569.7 1783.9 569.5" fill="none" stroke="#111" stroke-width="0.9"/><rect x="1789.4" y="560.7" width="10.8" height="13.0" rx="2.2" fill="#fff" stroke="#111" stroke-width="1.15"/><rect x="1791.6" y="562.8" width="7.2" height="9.4" rx="2.5" fill="none" stroke="#111" stroke-width="0.8"/>
<rect x="1608.0" y="574.7" width="25.4" height="15.5" rx="2.2" fill="#fff" stroke="#111" stroke-width="1.15"/><rect x="1609.8" y="576.3" width="21.8" height="11.9" rx="2.5" fill="none" stroke="#111" stroke-width="0.8"/><path d="M1611.5 583.3 Q1615.2 583.1 1618.9 583.5" fill="none" stroke="#111" stroke-width="0.9"/><path d="M1612.3 585.4 Q1615.1 584.2 1617.9 585.8" fill="none" stroke="#111" stroke-width="0.9"/><rect x="1636.1" y="574.7" width="23.0" height="15.5" rx="2.2" fill="#fff" stroke="#111" stroke-width="1.15"/><rect x="1637.8" y="576.3" width="19.4" height="11.9" rx="2.5" fill="none" stroke="#111" stroke-width="0.8"/><path d="M1642.5 584.5 Q1647.3 583.4 1652.0 585.3" fill="none" stroke="#111" stroke-width="0.9"/><rect x="1662.4" y="574.4" width="26.0" height="15.5" rx="2.2" fill="#fff" stroke="#111" stroke-width="1.15"/><rect x="1689.4" y="574.8" width="30.5" height="15.5" rx="2.2" fill="#fff" stroke="#111" stroke-width="1.15"/><rect x="1691.3" y="576.3" width="26.9" height="11.9" rx="2.5" fill="none" stroke="#111" stroke-width="0.8"/><rect x="1721.3" y="574.7" width="26.1" height="15.5" rx="2.2" fill="#fff" stroke="#111" stroke-width="1.15"/><path d="M1728.3 586.4 Q1734.5 585.5 1740.7 586.7" fill="none" stroke="#111" stroke-width="0.9"/><rect x="1749.1" y="574.5" width="10.5" height="15.5" rx="2.2" fill="#fff" stroke="#111" stroke-width="1.15"/><rect x="1750.8" y="576.3" width="6.9" height="11.9" rx="2.5" fill="none" stroke="#111" stroke-width="0.8"/><path d="M1751.8 585.5 Q1754.5 586.1 1757.1 585.1" fill="none" stroke="#111" stroke-width="0.9"/><path d="M1750.1 583.4 Q1752.8 583.9 1755.6 582.5" fill="none" stroke="#111" stroke-width="0.9"/><rect x="1759.8" y="574.8" width="40.0" height="15.5" rx="2.2" fill="#fff" stroke="#111" stroke-width="1.15"/><path d="M1786.8 584.0 Q1791.3 583.5 1795.9 584.8" fill="none" stroke="#111" stroke-width="0.9"/>
<rect x="1620.4" y="590.4" width="26.4" height="11.5" rx="2.2" fill="#fff" stroke="#111" stroke-width="1.15"/><path d="M1635.8 598.0 Q1640.0 597.4 1644.2 597.6" fill="none" stroke="#111" stroke-width="0.9"/><path d="M1629.0 599.3 Q1635.5 598.6 1642.0 599.0" fill="none" stroke="#111" stroke-width="0.9"/><rect x="1649.3" y="590.3" width="4.5" height="11.5" rx="2.2" fill="#fff" stroke="#111" stroke-width="1.15"/><rect x="1654.5" y="590.4" width="24.4" height="11.5" rx="2.2" fill="#fff" stroke="#111" stroke-width="1.15"/><rect x="1656.4" y="592.3" width="20.8" height="7.9" rx="2.5" fill="none" stroke="#111" stroke-width="0.8"/><path d="M1661.8 597.9 Q1665.0 598.1 1668.2 597.2" fill="none" stroke="#111" stroke-width="0.9"/><path d="M1658.6 598.0 Q1665.0 599.0 1671.3 597.5" fill="none" stroke="#111" stroke-width="0.9"/><rect x="1679.5" y="590.1" width="35.0" height="11.5" rx="2.2" fill="#fff" stroke="#111" stroke-width="1.15"/><rect x="1681.8" y="592.3" width="31.4" height="7.9" rx="2.5" fill="none" stroke="#111" stroke-width="0.8"/><rect x="1719.2" y="590.9" width="23.5" height="11.5" rx="2.2" fill="#fff" stroke="#111" stroke-width="1.15"/><rect x="1720.8" y="592.3" width="19.9" height="7.9" rx="2.5" fill="none" stroke="#111" stroke-width="0.8"/><path d="M1725.2 598.3 Q1729.2 597.6 1733.2 597.5" fill="none" stroke="#111" stroke-width="0.9"/><path d="M1725.3 596.9 Q1730.7 595.7 1736.2 597.5" fill="none" stroke="#111" stroke-width="0.9"/><rect x="1744.2" y="590.8" width="23.2" height="11.5" rx="2.2" fill="#fff" stroke="#111" stroke-width="1.15"/><path d="M1750.7 598.1 Q1754.8 599.0 1758.9 597.7" fill="none" stroke="#111" stroke-width="0.9"/><path d="M1748.7 598.1 Q1754.8 596.8 1760.9 598.4" fill="none" stroke="#111" stroke-width="0.9"/><rect x="1768.0" y="590.8" width="32.5" height="11.5" rx="2.2" fill="#fff" stroke="#111" stroke-width="1.15"/><path d="M1788.1 599.0 Q1793.1 600.1 1798.0 599.9" fill="none" stroke="#111" stroke-width="0.9"/>
<rect x="1628.2" y="603.0" width="24.0" height="16.0" rx="2.2" fill="#fff" stroke="#111" stroke-width="1.15"/><rect x="1653.5" y="602.9" width="38.9" height="16.0" rx="2.2" fill="#fff" stroke="#111" stroke-width="1.15"/><rect x="1655.4" y="604.8" width="35.3" height="12.4" rx="2.5" fill="none" stroke="#111" stroke-width="0.8"/><path d="M1660.8 614.8 Q1666.4 614.2 1672.0 614.6" fill="none" stroke="#111" stroke-width="0.9"/><path d="M1670.3 613.1 Q1676.8 613.0 1683.3 613.5" fill="none" stroke="#111" stroke-width="0.9"/><rect x="1692.8" y="602.6" width="39.0" height="16.0" rx="2.2" fill="#fff" stroke="#111" stroke-width="1.15"/><rect x="1733.3" y="602.4" width="29.7" height="16.0" rx="2.2" fill="#fff" stroke="#111" stroke-width="1.15"/><rect x="1762.8" y="602.6" width="38.0" height="16.0" rx="2.2" fill="#fff" stroke="#111" stroke-width="1.15"/><rect x="1764.8" y="604.8" width="34.4" height="12.4" rx="2.5" fill="none" stroke="#111" stroke-width="0.8"/><path d="M1771.9 615.2 Q1777.1 614.3 1782.2 614.5" fill="none" stroke="#111" stroke-width="0.9"/><path d="M1773.0 612.6 Q1778.9 612.0 1784.8 612.7" fill="none" stroke="#111" stroke-width="0.9"/>
<rect x="1642.4" y="619.5" width="35.0" height="12.5" rx="2.2" fill="#fff" stroke="#111" stroke-width="1.15"/><rect x="1643.8" y="621.3" width="31.4" height="8.9" rx="2.5" fill="none" stroke="#111" stroke-width="0.8"/><path d="M1665.1 627.4 Q1669.0 628.8 1672.8 627.4" fill="none" stroke="#111" stroke-width="0.9"/><rect x="1678.3" y="619.0" width="18.0" height="12.5" rx="2.2" fill="#fff" stroke="#111" stroke-width="1.15"/><path d="M1686.5 628.9 Q1690.2 629.7 1693.9 628.0" fill="none" stroke="#111" stroke-width="0.9"/><rect x="1699.0" y="620.0" width="20.9" height="12.5" rx="2.2" fill="#fff" stroke="#111" stroke-width="1.15"/><path d="M1705.1 627.1 Q1709.1 628.3 1713.2 627.0" fill="none" stroke="#111" stroke-width="0.9"/><rect x="1721.3" y="619.1" width="35.0" height="12.5" rx="2.2" fill="#fff" stroke="#111" stroke-width="1.15"/><path d="M1726.9 628.7 Q1732.2 628.7 1737.5 627.8" fill="none" stroke="#111" stroke-width="0.9"/><path d="M1736.6 626.9 Q1740.0 628.2 1743.4 626.2" fill="none" stroke="#111" stroke-width="0.9"/><rect x="1756.6" y="619.3" width="26.0" height="12.5" rx="2.2" fill="#fff" stroke="#111" stroke-width="1.15"/><path d="M1761.3 627.9 Q1765.9 629.2 1770.5 628.0" fill="none" stroke="#111" stroke-width="0.9"/><path d="M1771.1 627.3 Q1775.6 627.1 1780.0 628.2" fill="none" stroke="#111" stroke-width="0.9"/><rect x="1783.5" y="619.9" width="27.6" height="12.5" rx="2.2" fill="#fff" stroke="#111" stroke-width="1.15"/><rect x="1785.8" y="621.3" width="24.0" height="8.9" rx="2.5" fill="none" stroke="#111" stroke-width="0.8"/><path d="M1793.0 627.9 Q1799.8 629.3 1806.6 627.6" fill="none" stroke="#111" stroke-width="0.9"/><path d="M1792.9 628.1 Q1799.9 628.6 1806.9 627.2" fill="none" stroke="#111" stroke-width="0.9"/>
<rect x="1647.5" y="632.6" width="44.0" height="16.0" rx="2.2" fill="#fff" stroke="#111" stroke-width="1.15"/><path d="M1665.3 646.3 Q1671.5 646.8 1677.8 645.4" fill="none" stroke="#111" stroke-width="0.9"/><path d="M1662.7 645.1 Q1666.3 645.3 1669.8 645.1" fill="none" stroke="#111" stroke-width="0.9"/><rect x="1692.4" y="633.6" width="15.5" height="16.0" rx="2.2" fill="#fff" stroke="#111" stroke-width="1.15"/><rect x="1709.5" y="632.6" width="25.6" height="16.0" rx="2.2" fill="#fff" stroke="#111" stroke-width="1.15"/><path d="M1721.4 646.3 Q1726.3 646.5 1731.1 645.5" fill="none" stroke="#111" stroke-width="0.9"/><path d="M1714.4 643.6 Q1717.4 643.0 1720.4 643.1" fill="none" stroke="#111" stroke-width="0.9"/><rect x="1736.5" y="633.2" width="31.5" height="16.0" rx="2.2" fill="#fff" stroke="#111" stroke-width="1.15"/><rect x="1738.3" y="634.8" width="27.9" height="12.4" rx="2.5" fill="none" stroke="#111" stroke-width="0.8"/><path d="M1741.2 642.5 Q1744.1 643.0 1747.1 642.9" fill="none" stroke="#111" stroke-width="0.9"/><rect x="1769.6" y="632.9" width="30.0" height="16.0" rx="2.2" fill="#fff" stroke="#111" stroke-width="1.15"/><path d="M1785.0 642.3 Q1787.6 643.7 1790.2 642.1" fill="none" stroke="#111" stroke-width="0.9"/><path d="M1786.1 643.4 Q1791.4 644.7 1796.8 642.7" fill="none" stroke="#111" stroke-width="0.9"/><rect x="1801.6" y="632.6" width="18.0" height="16.0" rx="2.2" fill="#fff" stroke="#111" stroke-width="1.15"/><path d="M1806.7 643.7 Q1809.2 643.4 1811.8 644.1" fill="none" stroke="#111" stroke-width="0.9"/>
<line x1="1596.8" y1="468" x2="1596.8" y2="569" stroke="#ff3a3a" stroke-width="1.1"/><path d="M1594.5 563 L1596.8 569 L1599.1 563" fill="none" stroke="#ff3a3a" stroke-width="1"/>
<line x1="1634.3" y1="498.6" x2="1634.3" y2="599" stroke="#ff3a3a" stroke-width="1.1"/><path d="M1632.0 593 L1634.3 599 L1636.6 593" fill="none" stroke="#ff3a3a" stroke-width="1"/>
<line x1="1672.4" y1="544.3" x2="1672.4" y2="644" stroke="#ff3a3a" stroke-width="1.1"/><path d="M1670.1000000000001 638 L1672.4 644 L1674.7 638" fill="none" stroke="#ff3a3a" stroke-width="1"/>
<line x1="1716.7" y1="564.3" x2="1716.7" y2="644" stroke="#ff3a3a" stroke-width="1.1"/><path d="M1714.4 638 L1716.7 644 L1719.0 638" fill="none" stroke="#ff3a3a" stroke-width="1"/>
<line x1="1784.9" y1="487.8" x2="1784.9" y2="644" stroke="#ff3a3a" stroke-width="1.1"/><path d="M1782.6000000000001 638 L1784.9 644 L1787.2 638" fill="none" stroke="#ff3a3a" stroke-width="1"/>
<g transform="translate(1640,60) scale(0.160428)" fill="none" stroke-linejoin="round">
<g stroke="none">
<path fill="#fce0e0" d="M230 520 L290 530 L490 660 L700 770 L860 840 L900 870 L1000 930 L1090 1100 L1000 960 L870 880 L700 800 L480 700 L290 560 Z"/>
<path fill="#fce0e0" d="M540 450 L620 510 L700 580 L880 770 L950 830 L900 890 L860 860 L850 810 L700 620 L600 520 L540 470 Z"/>
<path fill="#74c08a" d="M800 540 L830 530 L860 580 L880 630 L920 670 L960 690 L1000 700 L1060 720 L1122 730 L1122 810 L1060 790 L1000 760 L940 720 L900 680 L870 640 L820 580 Z"/>
<path fill="#e6f4e6" d="M960 600 L1090 650 L1110 700 L1000 690 L960 650 Z"/>
</g>
<g stroke="#707070" stroke-width="0.8">
<path vector-effect="non-scaling-stroke" d="M50 265 L100 300 L200 390 L230 420 L260 470 L290 520"/>
<path vector-effect="non-scaling-stroke" d="M50 330 L100 320 L200 385 L190 440 M40 395 L110 440 L220 530"/>
<path vector-effect="non-scaling-stroke" d="M350 240 L400 300 L480 380 L520 430 L545 450"/>
<path vector-effect="non-scaling-stroke" d="M375 225 L420 290 L470 350 L500 400"/>
<path vector-effect="non-scaling-stroke" d="M430 180 L480 250 L560 340 L620 400 L680 440"/>
<path vector-effect="non-scaling-stroke" d="M870 45 L1122 90 M825 360 L1122 410 M870 45 L825 360"/>
<path vector-effect="non-scaling-stroke" d="M840 210 L905 215 M840 260 L905 265 M830 300 L900 305"/>
<path vector-effect="non-scaling-stroke" d="M600 70 L650 75 L700 140 L720 190 L750 240 L790 245 L760 270 L740 300 L720 350 L760 390 L800 420 L870 430 L920 410"/>
<path vector-effect="non-scaling-stroke" d="M620 80 L680 160 L700 230 L730 280 L800 310"/>
<path vector-effect="non-scaling-stroke" d="M570 265 L590 250 L700 300 L720 290 L650 360 L640 345 Z"/>
<path vector-effect="non-scaling-stroke" d="M720 510 L780 490 L850 485 L930 470 L980 490 L1030 510 L1080 500 L1122 480 M980 400 L1000 440 L1030 480"/>
</g>
<path stroke="#808080" stroke-width="3.8" vector-effect="non-scaling-stroke" d="M930 128 L1122 150 M918 310 L1122 340 M930 128 L915 310"/>
<g stroke="#111" stroke-width="1">
<path vector-effect="non-scaling-stroke" d="M240 540 L290 530 L400 570 L430 540 L540 450 L560 460 L620 510 L700 580 L760 640 L880 780 L950 830 L1000 930 L990 960 L1090 1100 L1100 1105 L970 950 L900 900 L860 880 L790 850 L700 800 L600 770 L540 730 L490 710 L480 690 L400 710 L340 680 L240 630 L230 560 Z"/>
<path vector-effect="non-scaling-stroke" d="M420 560 L540 460 L610 530 L720 650 L660 720 L630 700 L580 660 Z"/>
<path vector-effect="non-scaling-stroke" d="M480 490 L510 530 L470 560 M520 580 L570 540 L580 560 L530 600 M610 640 L650 610 L700 650 L690 660 M640 700 L700 650"/>
<path vector-effect="non-scaling-stroke" d="M290 530 L340 560 L480 650 L490 660 L600 730 L690 780 L780 800 L840 830 L870 850"/>
<path vector-effect="non-scaling-stroke" d="M480 700 L620 780 L700 800 L790 830 M720 760 L760 740 L800 730 M820 760 L850 760 L860 800"/>
<path vector-effect="non-scaling-stroke" d="M775 545 L800 525 L830 520 L870 545 L895 580 L880 600 L820 580 Z"/>
<path vector-effect="non-scaling-stroke" d="M880 545 L1000 610 L1090 650 L1122 640 M870 730 L900 700 L920 690"/>
</g>
<g stroke="#ff4040" stroke-width="0.8">
<path vector-effect="non-scaling-stroke" d="M565 430 L575 418 L975 820 L965 830"/>
<path vector-effect="non-scaling-stroke" d="M230 550 L160 680 L840 1030 L910 910"/>
<path vector-effect="non-scaling-stroke" d="M850 880 L630 1130 L880 1345 L1095 1110"/>
</g>
<path stroke="#78cc88" stroke-width="0.8" vector-effect="non-scaling-stroke" d="M775 570 L880 690 L1122 830 M900 700 L920 740 L1122 840"/>
<g fill="#ff3030" font-size="60" font-weight="bold" font-family="Liberation Sans, sans-serif" text-anchor="middle">
<text x="690" y="505" transform="rotate(-40 690 485)">R</text>
<text x="470" y="925" transform="rotate(25 470 905)">B</text>
<text x="715" y="1295" transform="rotate(45 715 1275)">A</text>
</g>
<g fill="#58c070" font-size="60" font-weight="bold" font-family="Liberation Sans, sans-serif" text-anchor="middle">
<text x="880" y="665" transform="rotate(25 880 645)">Q</text>
</g>
</g>
<g transform="translate(1800,60) scale(0.160428)" fill="none" stroke-linejoin="round">
<g stroke="none">
<path fill="#74c08a" d="M0 690 L60 700 L150 740 L290 790 L330 810 L420 870 L440 890 L380 880 L280 840 L170 800 L80 770 L0 740 Z"/>
<path fill="#e6f4e6" d="M0 600 L90 640 L110 700 L60 700 L0 660 Z M130 600 L160 555 L240 570 L240 620 L170 605 Z"/>
<path fill="#fce0e0" d="M750 910 L800 940 L860 760 L880 690 L800 690 L760 850 Z"/>
<path fill="#e4eef8" d="M800 690 L880 690 L920 530 L880 540 L840 570 Z"/>
<path fill="#f04848" d="M460 800 L480 790 L490 820 L480 840 L540 860 L600 855 L650 860 L700 880 L750 910 L800 940 L780 1000 L740 980 L680 960 L620 920 L570 920 L500 880 L460 860 Z"/>
<path fill="#e6f4e6" d="M0 130 L0 0 Z"/>
</g>
<g stroke="#707070" stroke-width="0.8">
<path vector-effect="non-scaling-stroke" d="M0 65 L195 100 L170 420 L0 390 M120 95 L130 160 L190 170 M115 120 L190 130"/>
<path vector-effect="non-scaling-stroke" d="M190 260 L250 300 L300 370 L280 420 L200 440 L120 430 M180 350 L220 380 L230 420 M285 200 L300 270 L310 340 L300 380 L260 410 M330 290 L360 345"/>
<path vector-effect="non-scaling-stroke" d="M90 420 L130 440 L110 490 L60 520 L0 520"/>
<path vector-effect="non-scaling-stroke" d="M610 800 L620 700 L680 600 L760 520 L810 495"/>
</g>
<path stroke="#808080" stroke-width="3.8" vector-effect="non-scaling-stroke" d="M0 135 L110 150 L85 335 L0 322"/>
<g stroke="#111" stroke-width="1">
<path vector-effect="non-scaling-stroke" d="M235 560 L250 500 L300 450 L400 410 L500 420 L580 460 L630 510 L640 590 L610 660 L560 685 L470 690 L380 670 L290 640 L240 625"/>
<path vector-effect="non-scaling-stroke" d="M0 600 L90 650 L110 610 L130 590 L160 555 L290 565 L280 625 L240 625"/>
<path vector-effect="non-scaling-stroke" d="M130 600 L170 605 L290 635 L380 670"/>
<path vector-effect="non-scaling-stroke" d="M100 690 L130 670 L300 710 L490 760 L590 770 L610 800"/>
<path vector-effect="non-scaling-stroke" d="M60 690 L300 790 L460 830 M490 760 L490 800 L600 800"/>
<path vector-effect="non-scaling-stroke" d="M760 850 L780 780 L840 640 L860 520"/>
<path vector-effect="non-scaling-stroke" d="M900 520 L920 580 L930 700 L900 780 L860 880 L850 950 L850 1010 L800 1040 L760 1040 L720 1000 L710 960"/>
<path vector-effect="non-scaling-stroke" d="M190 960 L245 850 L700 950 L600 1165 Z M210 955 L255 870 L680 960 L590 1145 Z"/>
<path vector-effect="non-scaling-stroke" stroke-width="2" d="M130 875 L250 905"/>
<path vector-effect="non-scaling-stroke" d="M300 800 L500 880 L650 960 M250 900 L400 960 L600 1010"/>
<path vector-effect="non-scaling-stroke" d="M0 960 L90 1100"/>
</g>
<g stroke="#ff4040" stroke-width="0.8">
<path vector-effect="non-scaling-stroke" d="M920 530 L985 550 L850 1020 L780 1000"/>
<path vector-effect="non-scaling-stroke" d="M440 900 L400 970 L720 1125 L760 1020"/>
<path vector-effect="non-scaling-stroke" d="M95 1100 L0 1220"/>
</g>
<path stroke="#78cc88" stroke-width="0.8" vector-effect="non-scaling-stroke" d="M0 780 L440 895 L430 955 L200 900"/>
<g fill="#ff3030" font-size="60" font-weight="bold" font-family="Liberation Sans, sans-serif" text-anchor="middle">
<text x="945" y="840" transform="rotate(-70 945 820)">N</text>
<text x="530" y="1095" transform="rotate(25 530 1075)">0</text>
</g>
<g fill="#58c070" font-size="60" font-weight="bold" font-family="Liberation Sans, sans-serif" text-anchor="middle">
<text x="65" y="880" transform="rotate(25 65 860)">P</text>
</g>
</g>
<rect x="47.5" y="48.5" width="1933.5" height="1232.3" fill="none" stroke="#4a4a4e" stroke-width="1.3"/>
<rect x="126" y="85.5" width="34.5" height="16.3" fill="url(#hs)" stroke="#ff5a4a" stroke-width="1.3"/>
<rect x="126" y="110.3" width="34.5" height="17" fill="#ffe0e0" stroke="#ff5a4a" stroke-width="1.3"/>
<rect x="126" y="135.7" width="34.5" height="17" fill="#ff8c90" stroke="#ff5a4a" stroke-width="1.3"/>
<rect x="126" y="161.3" width="34.5" height="17" fill="url(#oh)" stroke="#2a2a2a" stroke-width="1.3"/>
<rect x="126" y="186.8" width="34.5" height="16.7" fill="url(#gh)" stroke="#2a2a2a" stroke-width="1.3"/>
<line x1="132.2" y1="211.5" x2="132.2" y2="228" stroke="#ff4a3a" stroke-width="1.1"/><path d="M130.39999999999998 225.5 L132.2 229.5 L134.0 225.5" fill="none" stroke="#ff4a3a" stroke-width="1"/>
<line x1="143.5" y1="211.5" x2="143.5" y2="228" stroke="#ff4a3a" stroke-width="1.1"/><path d="M141.7 225.5 L143.5 229.5 L145.3 225.5" fill="none" stroke="#ff4a3a" stroke-width="1"/>
<line x1="154.4" y1="211.5" x2="154.4" y2="228" stroke="#ff4a3a" stroke-width="1.1"/><path d="M152.6 225.5 L154.4 229.5 L156.20000000000002 225.5" fill="none" stroke="#ff4a3a" stroke-width="1"/>
<rect x="126" y="237.5" width="34.5" height="17" fill="url(#bh)" stroke="#4a4a4e" stroke-width="1.3"/>
<rect x="137.4" y="265.3" width="11.4" height="11.4" fill="#1f5cb0"/>
<line x1="126" y1="294.6" x2="160" y2="294.6" stroke="#3a9a5a" stroke-width="1.5"/>
<text x="171.6" y="96.3" font-size="10.6" fill="#3a3a3e" textLength="837.5" lengthAdjust="spacingAndGlyphs">rocaillage comprenant la reprise de l’arase par démolition, démontage et remontage de un ou plusieurs rangs, façon de dos d’âne, garnissage et jointoiement</text>
<text x="171.6" y="122.0" font-size="10.6" fill="#3a3a3e" textLength="252" lengthAdjust="spacingAndGlyphs">dépose / repose de moellons et pierres de taille</text>
<text x="171.6" y="147.0" font-size="10.6" fill="#3a3a3e" textLength="237.6" lengthAdjust="spacingAndGlyphs">compléments de moellons et pierres de taille</text>
<text x="171.6" y="172.2" font-size="10.6" fill="#3a3a3e" textLength="205" lengthAdjust="spacingAndGlyphs">dépose de moellons et pierres de taille</text>
<text x="171.6" y="197.0" font-size="10.6" fill="#3a3a3e" textLength="314.6" lengthAdjust="spacingAndGlyphs">repose de moellons et pierres de taille suite à effondrement</text>
<text x="171.6" y="223.0" font-size="10.6" fill="#3a3a3e" textLength="147.6" lengthAdjust="spacingAndGlyphs">injection de coulis de chaux</text>
<text x="171.6" y="248.0" font-size="10.6" fill="#3a3a3e" textLength="244.6" lengthAdjust="spacingAndGlyphs">rejointoiement sur parements et arrachements</text>
<text x="171.6" y="273.0" font-size="10.6" fill="#3a3a3e" textLength="255.6" lengthAdjust="spacingAndGlyphs">renforcement structurel de la roche par cloutage</text>
<text x="171.4" y="297.8" font-size="10.6" fill="#2e9a4e" textLength="13.2" lengthAdjust="spacingAndGlyphs">TF</text>
<text x="191.7" y="297.8" font-size="10.6" fill="#3a3a3e" textLength="110.2" lengthAdjust="spacingAndGlyphs">tirant foré composite</text>
<rect x="47.5" y="1310" width="1933.5" height="77.3" fill="none" stroke="#4a4a4e" stroke-width="1.3"/>
<line x1="47.5" y1="1348.5" x2="1981" y2="1348.5" stroke="#4a4a4e" stroke-width="1.2"/>
<line x1="47.5" y1="1373.2" x2="1981" y2="1373.2" stroke="#4a4a4e" stroke-width="1.2"/>
<line x1="771.3" y1="1310" x2="771.3" y2="1387.3" stroke="#4a4a4e" stroke-width="1.2"/>
<line x1="288.5" y1="1348.5" x2="288.5" y2="1387.3" stroke="#4a4a4e" stroke-width="1.2"/>
<line x1="530.2" y1="1348.5" x2="530.2" y2="1387.3" stroke="#4a4a4e" stroke-width="1.2"/>
<line x1="1017.8" y1="1348.5" x2="1017.8" y2="1387.3" stroke="#4a4a4e" stroke-width="1.2"/>
<line x1="1263.3" y1="1348.5" x2="1263.3" y2="1387.3" stroke="#4a4a4e" stroke-width="1.2"/>
<line x1="1400.2" y1="1348.5" x2="1400.2" y2="1387.3" stroke="#4a4a4e" stroke-width="1.2"/>
<line x1="1545.3" y1="1348.5" x2="1545.3" y2="1387.3" stroke="#4a4a4e" stroke-width="1.2"/>
<line x1="1690.6" y1="1348.5" x2="1690.6" y2="1387.3" stroke="#4a4a4e" stroke-width="1.2"/>
<line x1="1835.9" y1="1348.5" x2="1835.9" y2="1387.3" stroke="#4a4a4e" stroke-width="1.2"/>
<line x1="1932.5" y1="1348.5" x2="1932.5" y2="1387.3" stroke="#4a4a4e" stroke-width="1.2"/>
<text x="57.5" y="1334" font-size="13.6" fill="#4a4a50" textLength="197" lengthAdjust="spacingAndGlyphs" font-weight="bold">Château du Grand-Geroldseck</text>
<text x="266" y="1334" font-size="13.6" fill="#4a4a50">/</text>
<text x="283.3" y="1334" font-size="13.6" fill="#55555a" textLength="331.5" lengthAdjust="spacingAndGlyphs">Restauration du dispositif du mur de courtine Nord Est</text>
<text x="797.2" y="1334" font-size="13.7" fill="#2a2a2e" textLength="504" lengthAdjust="spacingAndGlyphs" font-weight="bold">ÉLÉVATION DU DISPOSITIF D’ENTRÉE ET DU MUR DE COURTINE NORD EST</text>
<text x="1303" y="1334" font-size="13.7" fill="#3a3a3e" textLength="198" lengthAdjust="spacingAndGlyphs"> - ÉTAT PROJETÉ - ÉLÉVATIONS</text>
<text x="1505.3" y="1334" font-size="13.7" fill="#ff2a2a" textLength="54.5" lengthAdjust="spacingAndGlyphs">Q / P / O</text>
<text x="57" y="1359" font-size="8.2" fill="#3a3a3e" textLength="104" lengthAdjust="spacingAndGlyphs">Association Pro Geroldseck</text>
<text x="57" y="1368.8" font-size="8.2" fill="#3a3a3e" textLength="212" lengthAdjust="spacingAndGlyphs">16 Rue Person     67700 Saverne     T : 07 82 56 95 19</text>
<text x="298" y="1359" font-size="8.2" fill="#3a3a3e" textLength="56" lengthAdjust="spacingAndGlyphs">VADE’MECUM</text>
<text x="298" y="1368.8" font-size="8.2" fill="#3a3a3e" textLength="186" lengthAdjust="spacingAndGlyphs">32 Rue des Cottages   67400 Illkirch Graffenstaden</text>
<text x="538" y="1359" font-size="8.2" fill="#3a3a3e" textLength="95" lengthAdjust="spacingAndGlyphs">PIERRE DUFOUR ACMH</text>
<text x="538" y="1368.8" font-size="8.2" fill="#3a3a3e" textLength="226.5" lengthAdjust="spacingAndGlyphs">13 rue des Chenebières   63200 Prompsat   T : 06 48 08 91 90</text>
<text x="786" y="1359" font-size="8.2" fill="#3a3a3e" textLength="81" lengthAdjust="spacingAndGlyphs">CABINET FRANCOIS</text>
<text x="786" y="1368.8" font-size="8.2" fill="#3a3a3e" textLength="217" lengthAdjust="spacingAndGlyphs">14 Rue de Queuleu        57070 Metz      T : 03 87 36 82 75</text>
<text x="57.5" y="1383.8" font-size="10" fill="#3a3a3e" textLength="84" lengthAdjust="spacingAndGlyphs">maîtrise d’ouvrage</text>
<text x="298" y="1383.8" font-size="10" fill="#3a3a3e" textLength="152.6" lengthAdjust="spacingAndGlyphs">assistance à la maîtrise d’ouvrage</text>
<text x="538" y="1383.8" font-size="10" fill="#3a3a3e" textLength="79.2" lengthAdjust="spacingAndGlyphs">acmh mandataire</text>
<text x="786" y="1383.8" font-size="10" fill="#3a3a3e" textLength="113.6" lengthAdjust="spacingAndGlyphs">économiste sous-traitant</text>
<text x="1028" y="1383.8" font-size="10" fill="#3a3a3e" textLength="79" lengthAdjust="spacingAndGlyphs">coordination SPS</text>
<text x="1269.2" y="1383.8" font-size="10" fill="#3a3a3e" textLength="28.4" lengthAdjust="spacingAndGlyphs">phase</text>
<text x="1405" y="1383.8" font-size="10" fill="#3a3a3e" textLength="21" lengthAdjust="spacingAndGlyphs">date</text>
<text x="1550.5" y="1383.8" font-size="10" fill="#3a3a3e" textLength="47" lengthAdjust="spacingAndGlyphs">modifié le</text>
<text x="1695.5" y="1383.8" font-size="10" fill="#3a3a3e" textLength="33.5" lengthAdjust="spacingAndGlyphs">échelle</text>
<text x="1841" y="1383.8" font-size="10" fill="#3a3a3e" textLength="53.5" lengthAdjust="spacingAndGlyphs">numéro folio</text>
<text x="1937.5" y="1383.8" font-size="10" fill="#3a3a3e" textLength="27.5" lengthAdjust="spacingAndGlyphs">indice</text>
<text x="1331.7" y="1367" font-size="17" fill="#2a2a2e" text-anchor="middle">AVP</text>
<text x="1412.3" y="1366.8" font-size="14.2" fill="#2a2a2e" text-anchor="middle">0</text>
<text x="1436.5" y="1366.8" font-size="14.2" fill="#2a2a2e" text-anchor="middle">8</text>
<line x1="1424.4" y1="1367" x2="1424.4" y2="1373" stroke="#4a4a4e" stroke-width="1"/><text x="1460.7" y="1366.8" font-size="14.2" fill="#2a2a2e" text-anchor="middle">1</text>
<line x1="1448.6" y1="1367" x2="1448.6" y2="1373" stroke="#4a4a4e" stroke-width="1"/><circle cx="1448.6" cy="1360" r="0.7" fill="#4a4a4e"/><circle cx="1448.6" cy="1364" r="0.7" fill="#4a4a4e"/><text x="1484.8" y="1366.8" font-size="14.2" fill="#2a2a2e" text-anchor="middle">1</text>
<line x1="1472.8" y1="1367" x2="1472.8" y2="1373" stroke="#4a4a4e" stroke-width="1"/><text x="1509.0" y="1366.8" font-size="14.2" fill="#2a2a2e" text-anchor="middle">2</text>
<line x1="1496.9" y1="1367" x2="1496.9" y2="1373" stroke="#4a4a4e" stroke-width="1"/><circle cx="1496.9" cy="1360" r="0.7" fill="#4a4a4e"/><circle cx="1496.9" cy="1364" r="0.7" fill="#4a4a4e"/><text x="1533.2" y="1366.8" font-size="14.2" fill="#2a2a2e" text-anchor="middle">1</text>
<line x1="1521.1" y1="1367" x2="1521.1" y2="1373" stroke="#4a4a4e" stroke-width="1"/>
<text x="1557.4" y="1366.8" font-size="14.2" fill="#2a2a2e" text-anchor="middle">-</text>
<text x="1581.6" y="1366.8" font-size="14.2" fill="#2a2a2e" text-anchor="middle">-</text>
<line x1="1569.5" y1="1367" x2="1569.5" y2="1373" stroke="#4a4a4e" stroke-width="1"/><text x="1605.8" y="1366.8" font-size="14.2" fill="#2a2a2e" text-anchor="middle">-</text>
<line x1="1593.7" y1="1367" x2="1593.7" y2="1373" stroke="#4a4a4e" stroke-width="1"/><circle cx="1593.7" cy="1360" r="0.7" fill="#4a4a4e"/><circle cx="1593.7" cy="1364" r="0.7" fill="#4a4a4e"/><text x="1630.1" y="1366.8" font-size="14.2" fill="#2a2a2e" text-anchor="middle">-</text>
<line x1="1617.9" y1="1367" x2="1617.9" y2="1373" stroke="#4a4a4e" stroke-width="1"/><text x="1654.3" y="1366.8" font-size="14.2" fill="#2a2a2e" text-anchor="middle">-</text>
<line x1="1642.2" y1="1367" x2="1642.2" y2="1373" stroke="#4a4a4e" stroke-width="1"/><circle cx="1642.2" cy="1360" r="0.7" fill="#4a4a4e"/><circle cx="1642.2" cy="1364" r="0.7" fill="#4a4a4e"/><text x="1678.5" y="1366.8" font-size="14.2" fill="#2a2a2e" text-anchor="middle">-</text>
<line x1="1666.4" y1="1367" x2="1666.4" y2="1373" stroke="#4a4a4e" stroke-width="1"/>
<text x="1702.7" y="1366.8" font-size="14.2" fill="#2a2a2e" text-anchor="middle">1/</text>
<text x="1726.9" y="1366.8" font-size="14.2" fill="#2a2a2e" text-anchor="middle">1</text>
<line x1="1714.8" y1="1367" x2="1714.8" y2="1373" stroke="#4a4a4e" stroke-width="1"/><text x="1751.1" y="1366.8" font-size="14.2" fill="#2a2a2e" text-anchor="middle">0</text>
<line x1="1739.0" y1="1367" x2="1739.0" y2="1373" stroke="#4a4a4e" stroke-width="1"/><text x="1775.4" y="1366.8" font-size="14.2" fill="#2a2a2e" text-anchor="middle">0</text>
<line x1="1763.2" y1="1367" x2="1763.2" y2="1373" stroke="#4a4a4e" stroke-width="1"/><text x="1799.6" y="1366.8" font-size="14.2" fill="#2a2a2e" text-anchor="middle">-</text>
<line x1="1787.5" y1="1367" x2="1787.5" y2="1373" stroke="#4a4a4e" stroke-width="1"/><text x="1823.8" y="1366.8" font-size="14.2" fill="#2a2a2e" text-anchor="middle">-</text>
<line x1="1811.7" y1="1367" x2="1811.7" y2="1373" stroke="#4a4a4e" stroke-width="1"/>
<text x="1848.0" y="1366.8" font-size="14.2" fill="#2a2a2e" text-anchor="middle">0</text>
<text x="1872.1" y="1366.8" font-size="14.2" fill="#2a2a2e" text-anchor="middle">0</text>
<line x1="1860.1" y1="1367" x2="1860.1" y2="1373" stroke="#4a4a4e" stroke-width="1"/><text x="1896.3" y="1366.8" font-size="14.2" fill="#2a2a2e" text-anchor="middle">4</text>
<line x1="1884.2" y1="1367" x2="1884.2" y2="1373" stroke="#4a4a4e" stroke-width="1"/><text x="1920.4" y="1366.8" font-size="14.2" fill="#2a2a2e" text-anchor="middle">3</text>
<line x1="1908.3" y1="1367" x2="1908.3" y2="1373" stroke="#4a4a4e" stroke-width="1"/>
<text x="1944.6" y="1366.8" font-size="14.2" fill="#2a2a2e" text-anchor="middle">-</text>
<text x="1968.9" y="1366.8" font-size="14.2" fill="#2a2a2e" text-anchor="middle">-</text>
<line x1="1956.8" y1="1367" x2="1956.8" y2="1373" stroke="#4a4a4e" stroke-width="1"/>
<line x1="130" y1="1085.5" x2="1801" y2="1085.5" stroke="#9a9a9a" stroke-width="1.2"/>
<line x1="130" y1="1082" x2="130" y2="1089" stroke="#9a9a9a" stroke-width="1"/><line x1="399" y1="1082" x2="399" y2="1089" stroke="#9a9a9a" stroke-width="1"/><line x1="781" y1="1082" x2="781" y2="1089" stroke="#9a9a9a" stroke-width="1"/><line x1="1264" y1="1082" x2="1264" y2="1089" stroke="#9a9a9a" stroke-width="1"/><line x1="1564" y1="1082" x2="1564" y2="1089" stroke="#9a9a9a" stroke-width="1"/><line x1="1801" y1="1082" x2="1801" y2="1089" stroke="#9a9a9a" stroke-width="1"/><text x="264.4" y="1123" font-size="12" fill="#2a2a2e" text-anchor="middle">Q</text>
<text x="590" y="1123" font-size="12" fill="#a0a0a0" text-anchor="middle">P2</text>
<text x="1022" y="1123" font-size="12" fill="#a0a0a0" text-anchor="middle">P1</text>
<text x="1413" y="1123" font-size="12" fill="#2a2a2e" text-anchor="middle">O2</text>
<text x="1682" y="1123" font-size="12" fill="#2a2a2e" text-anchor="middle">O1</text>
<line x1="131" y1="1007.3" x2="1258" y2="1007.3" stroke="#8ad89a" stroke-width="1.1"/><path d="M139 1003.5 L131 1007.3 L139 1011" fill="none" stroke="#8ad89a" stroke-width="1.1"/><path d="M1250 1003.5 L1258 1007.3 L1250 1011" fill="none" stroke="#8ad89a" stroke-width="1.1"/>
<text x="711.7" y="1002.5" font-size="11.5" fill="#8ad89a" text-anchor="middle">Travaux bénévoles</text>
<text x="711.7" y="1019.5" font-size="11.5" fill="#8ad89a" text-anchor="middle">Hors opération</text>
<path d="M129.4 345.0V400.3M129.4 411.6V424.1M129.4 436.7V495.7M129.4 508.2V520.8M129.4 533.3V593.0M129.4 604.5V617.0M129.4 628.7V691.3M129.4 702.3V715.7M129.4 725.7V788.2M129.4 799.4V811.7M129.4 822.8V884.2M129.4 895.4V907.6M129.4 919.9V981.3M129.4 992.5V1004.7" stroke="#1a1a1a" stroke-width="1.3" fill="none"/>
<path d="M398.9 345.0V400.3M398.9 411.6V424.1M398.9 436.7V495.7M398.9 508.2V520.8M398.9 533.3V593.0M398.9 604.5V617.0M398.9 628.7V676.0" stroke="#c4c4c4" stroke-width="1.2" fill="none"/>
<path d="M568.6 345.0V400.3M568.6 411.6V424.1M568.6 436.7V495.7M568.6 508.2V520.8M568.6 533.3V593.0M568.6 604.5V617.0M568.6 628.7V652.0" stroke="#c4c4c4" stroke-width="1.2" fill="none"/>
<path d="M780.6 345.0V400.3M780.6 411.6V424.1M780.6 436.7V495.7M780.6 508.2V520.8M780.6 533.3V593.0M780.6 604.5V617.0M780.6 628.7V691.3M780.6 702.3V715.7M780.6 725.7V782.0" stroke="#c4c4c4" stroke-width="1.2" fill="none"/>
<path d="M637.5 546.0V593.0M637.5 604.5V617.0M637.5 628.7V691.3M637.5 702.3V715.7M637.5 725.7V739.0" stroke="#c4c4c4" stroke-width="1.2" fill="none"/>
<path d="M398.9 676.0V691.3M398.9 702.3V715.7M398.9 725.7V788.2M398.9 799.4V811.7M398.9 822.8V884.2M398.9 895.4V907.6M398.9 919.9V981.3M398.9 992.5V1004.7" stroke="#1a1a1a" stroke-width="1.3" fill="none"/>
<path d="M780.6 782.0V788.2M780.6 799.4V811.7M780.6 822.8V884.2M780.6 895.4V907.6M780.6 919.9V981.3M780.6 992.5V1004.7" stroke="#1a1a1a" stroke-width="1.3" fill="none"/>
<path d="M1259.3 345.0V400.3M1259.3 411.6V424.1M1259.3 436.7V495.7M1259.3 508.2V520.8M1259.3 533.3V593.0M1259.3 604.5V617.0M1259.3 628.7V691.3M1259.3 702.3V715.7M1259.3 725.7V788.2M1259.3 799.4V811.7M1259.3 822.8V884.2M1259.3 895.4V907.6M1259.3 919.9V981.3M1259.3 992.5V1004.7" stroke="#3a3a3a" stroke-width="1.3" fill="none"/>
<path d="M1564.3 345.0V400.3M1564.3 411.6V424.1M1564.3 436.7V495.7M1564.3 508.2V520.8M1564.3 533.3V593.0M1564.3 604.5V617.0M1564.3 628.7V691.3M1564.3 702.3V715.7M1564.3 725.7V788.2M1564.3 799.4V811.7M1564.3 822.8V884.2M1564.3 895.4V907.6M1564.3 919.9V981.3M1564.3 992.5V1004.7" stroke="#3a3a3a" stroke-width="1.3" fill="none"/>
<path d="M1800.7 345.0V400.3M1800.7 411.6V424.1M1800.7 436.7V495.7M1800.7 508.2V520.8M1800.7 533.3V593.0M1800.7 604.5V617.0M1800.7 628.7V691.3M1800.7 702.3V715.7M1800.7 725.7V788.2M1800.7 799.4V811.7M1800.7 822.8V884.2M1800.7 895.4V907.6M1800.7 919.9V981.3M1800.7 992.5V1004.7" stroke="#3a3a3a" stroke-width="1.3" fill="none"/>
<line x1="637.5" y1="739" x2="637.5" y2="1005" stroke="#1a1a1a" stroke-width="1.3"/>
</svg></body></html>
